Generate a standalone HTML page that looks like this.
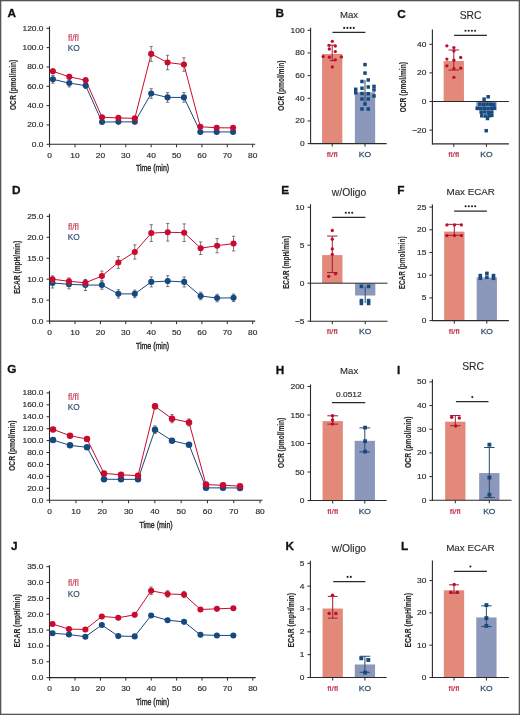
<!DOCTYPE html>
<html><head><meta charset="utf-8"><style>
html,body{margin:0;padding:0;background:#fff;}
body{width:520px;height:715px;overflow:hidden;}
svg{display:block;font-family:"Liberation Sans", sans-serif;will-change:transform;}
</style></head><body>
<svg width="520" height="715" viewBox="0 0 520 715">
<rect x="0" y="0" width="520" height="715" fill="#fff"/>
<line x1="49.5" y1="26.3" x2="49.5" y2="144.8" stroke="#2a2a2a" stroke-width="1.1"/>
<line x1="46.5" y1="144.3" x2="49.5" y2="144.3" stroke="#2a2a2a" stroke-width="1"/>
<text transform="translate(43.5,146.8) scale(1.15,1)" font-size="7.3" text-anchor="end" fill="#2a2a2a" stroke="#2a2a2a" stroke-width="0.15">0.0</text>
<line x1="46.5" y1="124.97" x2="49.5" y2="124.97" stroke="#2a2a2a" stroke-width="1"/>
<text transform="translate(43.5,127.47) scale(1.15,1)" font-size="7.3" text-anchor="end" fill="#2a2a2a" stroke="#2a2a2a" stroke-width="0.15">20.0</text>
<line x1="46.5" y1="105.63" x2="49.5" y2="105.63" stroke="#2a2a2a" stroke-width="1"/>
<text transform="translate(43.5,108.13) scale(1.15,1)" font-size="7.3" text-anchor="end" fill="#2a2a2a" stroke="#2a2a2a" stroke-width="0.15">40.0</text>
<line x1="46.5" y1="86.3" x2="49.5" y2="86.3" stroke="#2a2a2a" stroke-width="1"/>
<text transform="translate(43.5,88.8) scale(1.15,1)" font-size="7.3" text-anchor="end" fill="#2a2a2a" stroke="#2a2a2a" stroke-width="0.15">60.0</text>
<line x1="46.5" y1="66.96" x2="49.5" y2="66.96" stroke="#2a2a2a" stroke-width="1"/>
<text transform="translate(43.5,69.46) scale(1.15,1)" font-size="7.3" text-anchor="end" fill="#2a2a2a" stroke="#2a2a2a" stroke-width="0.15">80.0</text>
<line x1="46.5" y1="47.63" x2="49.5" y2="47.63" stroke="#2a2a2a" stroke-width="1"/>
<text transform="translate(43.5,50.13) scale(1.15,1)" font-size="7.3" text-anchor="end" fill="#2a2a2a" stroke="#2a2a2a" stroke-width="0.15">100.0</text>
<line x1="46.5" y1="28.3" x2="49.5" y2="28.3" stroke="#2a2a2a" stroke-width="1"/>
<text transform="translate(43.5,30.8) scale(1.15,1)" font-size="7.3" text-anchor="end" fill="#2a2a2a" stroke="#2a2a2a" stroke-width="0.15">120.0</text>
<line x1="49" y1="144.3" x2="255.2" y2="144.3" stroke="#2a2a2a" stroke-width="1.1"/>
<line x1="49.65" y1="144.3" x2="49.65" y2="147.3" stroke="#2a2a2a" stroke-width="1"/>
<text transform="translate(49.65,157.9) scale(1.15,1)" font-size="7.3" text-anchor="middle" fill="#2a2a2a" stroke="#2a2a2a" stroke-width="0.15">0</text>
<line x1="75.03" y1="144.3" x2="75.03" y2="147.3" stroke="#2a2a2a" stroke-width="1"/>
<text transform="translate(75.03,157.9) scale(1.15,1)" font-size="7.3" text-anchor="middle" fill="#2a2a2a" stroke="#2a2a2a" stroke-width="0.15">10</text>
<line x1="100.41" y1="144.3" x2="100.41" y2="147.3" stroke="#2a2a2a" stroke-width="1"/>
<text transform="translate(100.41,157.9) scale(1.15,1)" font-size="7.3" text-anchor="middle" fill="#2a2a2a" stroke="#2a2a2a" stroke-width="0.15">20</text>
<line x1="125.79" y1="144.3" x2="125.79" y2="147.3" stroke="#2a2a2a" stroke-width="1"/>
<text transform="translate(125.79,157.9) scale(1.15,1)" font-size="7.3" text-anchor="middle" fill="#2a2a2a" stroke="#2a2a2a" stroke-width="0.15">30</text>
<line x1="151.17" y1="144.3" x2="151.17" y2="147.3" stroke="#2a2a2a" stroke-width="1"/>
<text transform="translate(151.17,157.9) scale(1.15,1)" font-size="7.3" text-anchor="middle" fill="#2a2a2a" stroke="#2a2a2a" stroke-width="0.15">40</text>
<line x1="176.55" y1="144.3" x2="176.55" y2="147.3" stroke="#2a2a2a" stroke-width="1"/>
<text transform="translate(176.55,157.9) scale(1.15,1)" font-size="7.3" text-anchor="middle" fill="#2a2a2a" stroke="#2a2a2a" stroke-width="0.15">50</text>
<line x1="201.93" y1="144.3" x2="201.93" y2="147.3" stroke="#2a2a2a" stroke-width="1"/>
<text transform="translate(201.93,157.9) scale(1.15,1)" font-size="7.3" text-anchor="middle" fill="#2a2a2a" stroke="#2a2a2a" stroke-width="0.15">60</text>
<line x1="227.31" y1="144.3" x2="227.31" y2="147.3" stroke="#2a2a2a" stroke-width="1"/>
<text transform="translate(227.31,157.9) scale(1.15,1)" font-size="7.3" text-anchor="middle" fill="#2a2a2a" stroke="#2a2a2a" stroke-width="0.15">70</text>
<line x1="252.69" y1="144.3" x2="252.69" y2="147.3" stroke="#2a2a2a" stroke-width="1"/>
<text transform="translate(252.69,157.9) scale(1.15,1)" font-size="7.3" text-anchor="middle" fill="#2a2a2a" stroke="#2a2a2a" stroke-width="0.15">80</text>
<text transform="translate(152.5,171.2) scale(0.78,1)" font-size="9.0" text-anchor="middle" fill="#2a2a2a" font-weight="normal" stroke="#2a2a2a" stroke-width="0.4">Time (min)</text>
<text transform="translate(13,84.9) rotate(-90) scale(0.752,1)" font-size="8.8" text-anchor="middle" dy="0.35em" fill="#2a2a2a" font-weight="bold" stroke="#2a2a2a" stroke-width="0.1">OCR (pmol/min)</text>
<text transform="translate(68,41) scale(1.02,1)" font-size="8.3" text-anchor="start" fill="#c4304a" stroke="#c4304a" stroke-width="0.1">fl/fl</text>
<text transform="translate(67.7,50.8) scale(1.0,1)" font-size="8.3" text-anchor="start" fill="#34506e" stroke="#34506e" stroke-width="0.2">KO</text>
<polyline points="52.9,79.34 69.28,83.11 85.66,85.62 102.04,122.07 118.42,121.87 134.8,121.87 151.18,93.55 167.56,97.42 183.94,97.42 200.32,131.93 216.7,131.93 233.08,131.93" fill="none" stroke="#164a7e" stroke-width="1.0"/>
<polyline points="52.9,71.31 69.28,76.82 85.66,80.21 102.04,117.23 118.42,117.91 134.8,118.39 151.18,53.91 167.56,62.52 183.94,64.55 200.32,126.71 216.7,127.77 233.08,127.87" fill="none" stroke="#c90b2f" stroke-width="1.0"/>
<line x1="52.9" y1="75.47" x2="52.9" y2="83.2" stroke="#6a6a6a" stroke-width="0.9"/>
<line x1="51.3" y1="75.47" x2="54.5" y2="75.47" stroke="#6a6a6a" stroke-width="0.9"/>
<line x1="51.3" y1="83.2" x2="54.5" y2="83.2" stroke="#6a6a6a" stroke-width="0.9"/>
<circle cx="52.9" cy="79.34" r="3.05" fill="#164a7e"/>
<line x1="69.28" y1="79.24" x2="69.28" y2="86.97" stroke="#6a6a6a" stroke-width="0.9"/>
<line x1="67.68" y1="79.24" x2="70.88" y2="79.24" stroke="#6a6a6a" stroke-width="0.9"/>
<line x1="67.68" y1="86.97" x2="70.88" y2="86.97" stroke="#6a6a6a" stroke-width="0.9"/>
<circle cx="69.28" cy="83.11" r="3.05" fill="#164a7e"/>
<line x1="85.66" y1="82.72" x2="85.66" y2="88.52" stroke="#6a6a6a" stroke-width="0.9"/>
<line x1="84.06" y1="82.72" x2="87.26" y2="82.72" stroke="#6a6a6a" stroke-width="0.9"/>
<line x1="84.06" y1="88.52" x2="87.26" y2="88.52" stroke="#6a6a6a" stroke-width="0.9"/>
<circle cx="85.66" cy="85.62" r="3.05" fill="#164a7e"/>
<line x1="102.04" y1="120.62" x2="102.04" y2="123.52" stroke="#6a6a6a" stroke-width="0.9"/>
<line x1="100.44" y1="120.62" x2="103.64" y2="120.62" stroke="#6a6a6a" stroke-width="0.9"/>
<line x1="100.44" y1="123.52" x2="103.64" y2="123.52" stroke="#6a6a6a" stroke-width="0.9"/>
<circle cx="102.04" cy="122.07" r="3.05" fill="#164a7e"/>
<line x1="118.42" y1="120.42" x2="118.42" y2="123.32" stroke="#6a6a6a" stroke-width="0.9"/>
<line x1="116.82" y1="120.42" x2="120.02" y2="120.42" stroke="#6a6a6a" stroke-width="0.9"/>
<line x1="116.82" y1="123.32" x2="120.02" y2="123.32" stroke="#6a6a6a" stroke-width="0.9"/>
<circle cx="118.42" cy="121.87" r="3.05" fill="#164a7e"/>
<line x1="134.8" y1="120.42" x2="134.8" y2="123.32" stroke="#6a6a6a" stroke-width="0.9"/>
<line x1="133.2" y1="120.42" x2="136.4" y2="120.42" stroke="#6a6a6a" stroke-width="0.9"/>
<line x1="133.2" y1="123.32" x2="136.4" y2="123.32" stroke="#6a6a6a" stroke-width="0.9"/>
<circle cx="134.8" cy="121.87" r="3.05" fill="#164a7e"/>
<line x1="151.18" y1="88.71" x2="151.18" y2="98.38" stroke="#6a6a6a" stroke-width="0.9"/>
<line x1="149.58" y1="88.71" x2="152.78" y2="88.71" stroke="#6a6a6a" stroke-width="0.9"/>
<line x1="149.58" y1="98.38" x2="152.78" y2="98.38" stroke="#6a6a6a" stroke-width="0.9"/>
<circle cx="151.18" cy="93.55" r="3.05" fill="#164a7e"/>
<line x1="167.56" y1="92.58" x2="167.56" y2="102.25" stroke="#6a6a6a" stroke-width="0.9"/>
<line x1="165.96" y1="92.58" x2="169.16" y2="92.58" stroke="#6a6a6a" stroke-width="0.9"/>
<line x1="165.96" y1="102.25" x2="169.16" y2="102.25" stroke="#6a6a6a" stroke-width="0.9"/>
<circle cx="167.56" cy="97.42" r="3.05" fill="#164a7e"/>
<line x1="183.94" y1="92.58" x2="183.94" y2="102.25" stroke="#6a6a6a" stroke-width="0.9"/>
<line x1="182.34" y1="92.58" x2="185.54" y2="92.58" stroke="#6a6a6a" stroke-width="0.9"/>
<line x1="182.34" y1="102.25" x2="185.54" y2="102.25" stroke="#6a6a6a" stroke-width="0.9"/>
<circle cx="183.94" cy="97.42" r="3.05" fill="#164a7e"/>
<line x1="200.32" y1="130.96" x2="200.32" y2="132.89" stroke="#6a6a6a" stroke-width="0.9"/>
<line x1="198.72" y1="130.96" x2="201.92" y2="130.96" stroke="#6a6a6a" stroke-width="0.9"/>
<line x1="198.72" y1="132.89" x2="201.92" y2="132.89" stroke="#6a6a6a" stroke-width="0.9"/>
<circle cx="200.32" cy="131.93" r="3.05" fill="#164a7e"/>
<line x1="216.7" y1="130.96" x2="216.7" y2="132.89" stroke="#6a6a6a" stroke-width="0.9"/>
<line x1="215.1" y1="130.96" x2="218.3" y2="130.96" stroke="#6a6a6a" stroke-width="0.9"/>
<line x1="215.1" y1="132.89" x2="218.3" y2="132.89" stroke="#6a6a6a" stroke-width="0.9"/>
<circle cx="216.7" cy="131.93" r="3.05" fill="#164a7e"/>
<line x1="233.08" y1="130.96" x2="233.08" y2="132.89" stroke="#6a6a6a" stroke-width="0.9"/>
<line x1="231.48" y1="130.96" x2="234.68" y2="130.96" stroke="#6a6a6a" stroke-width="0.9"/>
<line x1="231.48" y1="132.89" x2="234.68" y2="132.89" stroke="#6a6a6a" stroke-width="0.9"/>
<circle cx="233.08" cy="131.93" r="3.05" fill="#164a7e"/>
<line x1="52.9" y1="68.9" x2="52.9" y2="73.73" stroke="#6a6a6a" stroke-width="0.9"/>
<line x1="51.3" y1="68.9" x2="54.5" y2="68.9" stroke="#6a6a6a" stroke-width="0.9"/>
<line x1="51.3" y1="73.73" x2="54.5" y2="73.73" stroke="#6a6a6a" stroke-width="0.9"/>
<circle cx="52.9" cy="71.31" r="3.05" fill="#c90b2f"/>
<line x1="69.28" y1="74.41" x2="69.28" y2="79.24" stroke="#6a6a6a" stroke-width="0.9"/>
<line x1="67.68" y1="74.41" x2="70.88" y2="74.41" stroke="#6a6a6a" stroke-width="0.9"/>
<line x1="67.68" y1="79.24" x2="70.88" y2="79.24" stroke="#6a6a6a" stroke-width="0.9"/>
<circle cx="69.28" cy="76.82" r="3.05" fill="#c90b2f"/>
<line x1="85.66" y1="77.79" x2="85.66" y2="82.62" stroke="#6a6a6a" stroke-width="0.9"/>
<line x1="84.06" y1="77.79" x2="87.26" y2="77.79" stroke="#6a6a6a" stroke-width="0.9"/>
<line x1="84.06" y1="82.62" x2="87.26" y2="82.62" stroke="#6a6a6a" stroke-width="0.9"/>
<circle cx="85.66" cy="80.21" r="3.05" fill="#c90b2f"/>
<line x1="102.04" y1="115.78" x2="102.04" y2="118.68" stroke="#6a6a6a" stroke-width="0.9"/>
<line x1="100.44" y1="115.78" x2="103.64" y2="115.78" stroke="#6a6a6a" stroke-width="0.9"/>
<line x1="100.44" y1="118.68" x2="103.64" y2="118.68" stroke="#6a6a6a" stroke-width="0.9"/>
<circle cx="102.04" cy="117.23" r="3.05" fill="#c90b2f"/>
<line x1="118.42" y1="116.46" x2="118.42" y2="119.36" stroke="#6a6a6a" stroke-width="0.9"/>
<line x1="116.82" y1="116.46" x2="120.02" y2="116.46" stroke="#6a6a6a" stroke-width="0.9"/>
<line x1="116.82" y1="119.36" x2="120.02" y2="119.36" stroke="#6a6a6a" stroke-width="0.9"/>
<circle cx="118.42" cy="117.91" r="3.05" fill="#c90b2f"/>
<line x1="134.8" y1="116.94" x2="134.8" y2="119.84" stroke="#6a6a6a" stroke-width="0.9"/>
<line x1="133.2" y1="116.94" x2="136.4" y2="116.94" stroke="#6a6a6a" stroke-width="0.9"/>
<line x1="133.2" y1="119.84" x2="136.4" y2="119.84" stroke="#6a6a6a" stroke-width="0.9"/>
<circle cx="134.8" cy="118.39" r="3.05" fill="#c90b2f"/>
<line x1="151.18" y1="46.47" x2="151.18" y2="61.36" stroke="#6a6a6a" stroke-width="0.9"/>
<line x1="149.58" y1="46.47" x2="152.78" y2="46.47" stroke="#6a6a6a" stroke-width="0.9"/>
<line x1="149.58" y1="61.36" x2="152.78" y2="61.36" stroke="#6a6a6a" stroke-width="0.9"/>
<circle cx="151.18" cy="53.91" r="3.05" fill="#c90b2f"/>
<line x1="167.56" y1="55.27" x2="167.56" y2="69.77" stroke="#6a6a6a" stroke-width="0.9"/>
<line x1="165.96" y1="55.27" x2="169.16" y2="55.27" stroke="#6a6a6a" stroke-width="0.9"/>
<line x1="165.96" y1="69.77" x2="169.16" y2="69.77" stroke="#6a6a6a" stroke-width="0.9"/>
<circle cx="167.56" cy="62.52" r="3.05" fill="#c90b2f"/>
<line x1="183.94" y1="57.78" x2="183.94" y2="71.31" stroke="#6a6a6a" stroke-width="0.9"/>
<line x1="182.34" y1="57.78" x2="185.54" y2="57.78" stroke="#6a6a6a" stroke-width="0.9"/>
<line x1="182.34" y1="71.31" x2="185.54" y2="71.31" stroke="#6a6a6a" stroke-width="0.9"/>
<circle cx="183.94" cy="64.55" r="3.05" fill="#c90b2f"/>
<line x1="200.32" y1="125.26" x2="200.32" y2="128.16" stroke="#6a6a6a" stroke-width="0.9"/>
<line x1="198.72" y1="125.26" x2="201.92" y2="125.26" stroke="#6a6a6a" stroke-width="0.9"/>
<line x1="198.72" y1="128.16" x2="201.92" y2="128.16" stroke="#6a6a6a" stroke-width="0.9"/>
<circle cx="200.32" cy="126.71" r="3.05" fill="#c90b2f"/>
<line x1="216.7" y1="126.32" x2="216.7" y2="129.22" stroke="#6a6a6a" stroke-width="0.9"/>
<line x1="215.1" y1="126.32" x2="218.3" y2="126.32" stroke="#6a6a6a" stroke-width="0.9"/>
<line x1="215.1" y1="129.22" x2="218.3" y2="129.22" stroke="#6a6a6a" stroke-width="0.9"/>
<circle cx="216.7" cy="127.77" r="3.05" fill="#c90b2f"/>
<line x1="233.08" y1="126.42" x2="233.08" y2="129.32" stroke="#6a6a6a" stroke-width="0.9"/>
<line x1="231.48" y1="126.42" x2="234.68" y2="126.42" stroke="#6a6a6a" stroke-width="0.9"/>
<line x1="231.48" y1="129.32" x2="234.68" y2="129.32" stroke="#6a6a6a" stroke-width="0.9"/>
<circle cx="233.08" cy="127.87" r="3.05" fill="#c90b2f"/>
<text x="7.45" y="16.75" font-size="11.8" text-anchor="start" fill="#111" font-weight="bold" stroke="#111" stroke-width="0.3">A</text>
<line x1="49.5" y1="213.8" x2="49.5" y2="321.6" stroke="#2a2a2a" stroke-width="1.1"/>
<line x1="46.5" y1="321.1" x2="49.5" y2="321.1" stroke="#2a2a2a" stroke-width="1"/>
<text transform="translate(43.5,323.6) scale(1.15,1)" font-size="7.3" text-anchor="end" fill="#2a2a2a" stroke="#2a2a2a" stroke-width="0.15">0.0</text>
<line x1="46.5" y1="300.15" x2="49.5" y2="300.15" stroke="#2a2a2a" stroke-width="1"/>
<text transform="translate(43.5,302.65) scale(1.15,1)" font-size="7.3" text-anchor="end" fill="#2a2a2a" stroke="#2a2a2a" stroke-width="0.15">5.0</text>
<line x1="46.5" y1="279.2" x2="49.5" y2="279.2" stroke="#2a2a2a" stroke-width="1"/>
<text transform="translate(43.5,281.7) scale(1.15,1)" font-size="7.3" text-anchor="end" fill="#2a2a2a" stroke="#2a2a2a" stroke-width="0.15">10.0</text>
<line x1="46.5" y1="258.25" x2="49.5" y2="258.25" stroke="#2a2a2a" stroke-width="1"/>
<text transform="translate(43.5,260.75) scale(1.15,1)" font-size="7.3" text-anchor="end" fill="#2a2a2a" stroke="#2a2a2a" stroke-width="0.15">15.0</text>
<line x1="46.5" y1="237.3" x2="49.5" y2="237.3" stroke="#2a2a2a" stroke-width="1"/>
<text transform="translate(43.5,239.8) scale(1.15,1)" font-size="7.3" text-anchor="end" fill="#2a2a2a" stroke="#2a2a2a" stroke-width="0.15">20.0</text>
<line x1="46.5" y1="216.35" x2="49.5" y2="216.35" stroke="#2a2a2a" stroke-width="1"/>
<text transform="translate(43.5,218.85) scale(1.15,1)" font-size="7.3" text-anchor="end" fill="#2a2a2a" stroke="#2a2a2a" stroke-width="0.15">25.0</text>
<line x1="49" y1="321.1" x2="255.2" y2="321.1" stroke="#2a2a2a" stroke-width="1.1"/>
<line x1="49.65" y1="321.1" x2="49.65" y2="324.1" stroke="#2a2a2a" stroke-width="1"/>
<text transform="translate(49.65,334.7) scale(1.15,1)" font-size="7.3" text-anchor="middle" fill="#2a2a2a" stroke="#2a2a2a" stroke-width="0.15">0</text>
<line x1="75.03" y1="321.1" x2="75.03" y2="324.1" stroke="#2a2a2a" stroke-width="1"/>
<text transform="translate(75.03,334.7) scale(1.15,1)" font-size="7.3" text-anchor="middle" fill="#2a2a2a" stroke="#2a2a2a" stroke-width="0.15">10</text>
<line x1="100.41" y1="321.1" x2="100.41" y2="324.1" stroke="#2a2a2a" stroke-width="1"/>
<text transform="translate(100.41,334.7) scale(1.15,1)" font-size="7.3" text-anchor="middle" fill="#2a2a2a" stroke="#2a2a2a" stroke-width="0.15">20</text>
<line x1="125.79" y1="321.1" x2="125.79" y2="324.1" stroke="#2a2a2a" stroke-width="1"/>
<text transform="translate(125.79,334.7) scale(1.15,1)" font-size="7.3" text-anchor="middle" fill="#2a2a2a" stroke="#2a2a2a" stroke-width="0.15">30</text>
<line x1="151.17" y1="321.1" x2="151.17" y2="324.1" stroke="#2a2a2a" stroke-width="1"/>
<text transform="translate(151.17,334.7) scale(1.15,1)" font-size="7.3" text-anchor="middle" fill="#2a2a2a" stroke="#2a2a2a" stroke-width="0.15">40</text>
<line x1="176.55" y1="321.1" x2="176.55" y2="324.1" stroke="#2a2a2a" stroke-width="1"/>
<text transform="translate(176.55,334.7) scale(1.15,1)" font-size="7.3" text-anchor="middle" fill="#2a2a2a" stroke="#2a2a2a" stroke-width="0.15">50</text>
<line x1="201.93" y1="321.1" x2="201.93" y2="324.1" stroke="#2a2a2a" stroke-width="1"/>
<text transform="translate(201.93,334.7) scale(1.15,1)" font-size="7.3" text-anchor="middle" fill="#2a2a2a" stroke="#2a2a2a" stroke-width="0.15">60</text>
<line x1="227.31" y1="321.1" x2="227.31" y2="324.1" stroke="#2a2a2a" stroke-width="1"/>
<text transform="translate(227.31,334.7) scale(1.15,1)" font-size="7.3" text-anchor="middle" fill="#2a2a2a" stroke="#2a2a2a" stroke-width="0.15">70</text>
<line x1="252.69" y1="321.1" x2="252.69" y2="324.1" stroke="#2a2a2a" stroke-width="1"/>
<text transform="translate(252.69,334.7) scale(1.15,1)" font-size="7.3" text-anchor="middle" fill="#2a2a2a" stroke="#2a2a2a" stroke-width="0.15">80</text>
<text transform="translate(152.5,348.9) scale(0.78,1)" font-size="9.0" text-anchor="middle" fill="#2a2a2a" font-weight="normal" stroke="#2a2a2a" stroke-width="0.4">Time (min)</text>
<text transform="translate(17.1,267.5) rotate(-90) scale(0.752,1)" font-size="8.8" text-anchor="middle" dy="0.35em" fill="#2a2a2a" font-weight="bold" stroke="#2a2a2a" stroke-width="0.1">ECAR (mpH/min)</text>
<text transform="translate(68,229.8) scale(1.02,1)" font-size="8.3" text-anchor="start" fill="#c4304a" stroke="#c4304a" stroke-width="0.1">fl/fl</text>
<text transform="translate(67.7,240.3) scale(1.0,1)" font-size="8.3" text-anchor="start" fill="#34506e" stroke="#34506e" stroke-width="0.2">KO</text>
<polyline points="52.5,282.97 68.96,284.23 85.42,285.07 101.88,285.07 118.34,293.87 134.8,293.87 151.26,281.92 167.72,281.09 184.18,281.92 200.64,295.96 217.1,298.06 233.56,297.85" fill="none" stroke="#164a7e" stroke-width="1.0"/>
<polyline points="52.5,279.2 68.96,281.3 85.42,282.76 101.88,276.06 118.34,262.44 134.8,251.97 151.26,233.11 167.72,232.27 184.18,232.69 200.64,248.19 217.1,245.68 233.56,243.59" fill="none" stroke="#c90b2f" stroke-width="1.0"/>
<line x1="52.5" y1="277.94" x2="52.5" y2="288" stroke="#6a6a6a" stroke-width="0.9"/>
<line x1="50.9" y1="277.94" x2="54.1" y2="277.94" stroke="#6a6a6a" stroke-width="0.9"/>
<line x1="50.9" y1="288" x2="54.1" y2="288" stroke="#6a6a6a" stroke-width="0.9"/>
<circle cx="52.5" cy="282.97" r="3.05" fill="#164a7e"/>
<line x1="68.96" y1="279.62" x2="68.96" y2="288.84" stroke="#6a6a6a" stroke-width="0.9"/>
<line x1="67.36" y1="279.62" x2="70.56" y2="279.62" stroke="#6a6a6a" stroke-width="0.9"/>
<line x1="67.36" y1="288.84" x2="70.56" y2="288.84" stroke="#6a6a6a" stroke-width="0.9"/>
<circle cx="68.96" cy="284.23" r="3.05" fill="#164a7e"/>
<line x1="85.42" y1="279.62" x2="85.42" y2="290.51" stroke="#6a6a6a" stroke-width="0.9"/>
<line x1="83.82" y1="279.62" x2="87.02" y2="279.62" stroke="#6a6a6a" stroke-width="0.9"/>
<line x1="83.82" y1="290.51" x2="87.02" y2="290.51" stroke="#6a6a6a" stroke-width="0.9"/>
<circle cx="85.42" cy="285.07" r="3.05" fill="#164a7e"/>
<line x1="101.88" y1="280.88" x2="101.88" y2="289.26" stroke="#6a6a6a" stroke-width="0.9"/>
<line x1="100.28" y1="280.88" x2="103.48" y2="280.88" stroke="#6a6a6a" stroke-width="0.9"/>
<line x1="100.28" y1="289.26" x2="103.48" y2="289.26" stroke="#6a6a6a" stroke-width="0.9"/>
<circle cx="101.88" cy="285.07" r="3.05" fill="#164a7e"/>
<line x1="118.34" y1="289.68" x2="118.34" y2="298.06" stroke="#6a6a6a" stroke-width="0.9"/>
<line x1="116.74" y1="289.68" x2="119.94" y2="289.68" stroke="#6a6a6a" stroke-width="0.9"/>
<line x1="116.74" y1="298.06" x2="119.94" y2="298.06" stroke="#6a6a6a" stroke-width="0.9"/>
<circle cx="118.34" cy="293.87" r="3.05" fill="#164a7e"/>
<line x1="134.8" y1="290.09" x2="134.8" y2="297.64" stroke="#6a6a6a" stroke-width="0.9"/>
<line x1="133.2" y1="290.09" x2="136.4" y2="290.09" stroke="#6a6a6a" stroke-width="0.9"/>
<line x1="133.2" y1="297.64" x2="136.4" y2="297.64" stroke="#6a6a6a" stroke-width="0.9"/>
<circle cx="134.8" cy="293.87" r="3.05" fill="#164a7e"/>
<line x1="151.26" y1="276.9" x2="151.26" y2="286.95" stroke="#6a6a6a" stroke-width="0.9"/>
<line x1="149.66" y1="276.9" x2="152.86" y2="276.9" stroke="#6a6a6a" stroke-width="0.9"/>
<line x1="149.66" y1="286.95" x2="152.86" y2="286.95" stroke="#6a6a6a" stroke-width="0.9"/>
<circle cx="151.26" cy="281.92" r="3.05" fill="#164a7e"/>
<line x1="167.72" y1="275.64" x2="167.72" y2="286.53" stroke="#6a6a6a" stroke-width="0.9"/>
<line x1="166.12" y1="275.64" x2="169.32" y2="275.64" stroke="#6a6a6a" stroke-width="0.9"/>
<line x1="166.12" y1="286.53" x2="169.32" y2="286.53" stroke="#6a6a6a" stroke-width="0.9"/>
<circle cx="167.72" cy="281.09" r="3.05" fill="#164a7e"/>
<line x1="184.18" y1="276.9" x2="184.18" y2="286.95" stroke="#6a6a6a" stroke-width="0.9"/>
<line x1="182.58" y1="276.9" x2="185.78" y2="276.9" stroke="#6a6a6a" stroke-width="0.9"/>
<line x1="182.58" y1="286.95" x2="185.78" y2="286.95" stroke="#6a6a6a" stroke-width="0.9"/>
<circle cx="184.18" cy="281.92" r="3.05" fill="#164a7e"/>
<line x1="200.64" y1="292.19" x2="200.64" y2="299.73" stroke="#6a6a6a" stroke-width="0.9"/>
<line x1="199.04" y1="292.19" x2="202.24" y2="292.19" stroke="#6a6a6a" stroke-width="0.9"/>
<line x1="199.04" y1="299.73" x2="202.24" y2="299.73" stroke="#6a6a6a" stroke-width="0.9"/>
<circle cx="200.64" cy="295.96" r="3.05" fill="#164a7e"/>
<line x1="217.1" y1="294.28" x2="217.1" y2="301.83" stroke="#6a6a6a" stroke-width="0.9"/>
<line x1="215.5" y1="294.28" x2="218.7" y2="294.28" stroke="#6a6a6a" stroke-width="0.9"/>
<line x1="215.5" y1="301.83" x2="218.7" y2="301.83" stroke="#6a6a6a" stroke-width="0.9"/>
<circle cx="217.1" cy="298.06" r="3.05" fill="#164a7e"/>
<line x1="233.56" y1="294.07" x2="233.56" y2="301.62" stroke="#6a6a6a" stroke-width="0.9"/>
<line x1="231.96" y1="294.07" x2="235.16" y2="294.07" stroke="#6a6a6a" stroke-width="0.9"/>
<line x1="231.96" y1="301.62" x2="235.16" y2="301.62" stroke="#6a6a6a" stroke-width="0.9"/>
<circle cx="233.56" cy="297.85" r="3.05" fill="#164a7e"/>
<line x1="52.5" y1="275.85" x2="52.5" y2="282.55" stroke="#6a6a6a" stroke-width="0.9"/>
<line x1="50.9" y1="275.85" x2="54.1" y2="275.85" stroke="#6a6a6a" stroke-width="0.9"/>
<line x1="50.9" y1="282.55" x2="54.1" y2="282.55" stroke="#6a6a6a" stroke-width="0.9"/>
<circle cx="52.5" cy="279.2" r="3.05" fill="#c90b2f"/>
<line x1="68.96" y1="277.94" x2="68.96" y2="284.65" stroke="#6a6a6a" stroke-width="0.9"/>
<line x1="67.36" y1="277.94" x2="70.56" y2="277.94" stroke="#6a6a6a" stroke-width="0.9"/>
<line x1="67.36" y1="284.65" x2="70.56" y2="284.65" stroke="#6a6a6a" stroke-width="0.9"/>
<circle cx="68.96" cy="281.3" r="3.05" fill="#c90b2f"/>
<line x1="85.42" y1="279.41" x2="85.42" y2="286.11" stroke="#6a6a6a" stroke-width="0.9"/>
<line x1="83.82" y1="279.41" x2="87.02" y2="279.41" stroke="#6a6a6a" stroke-width="0.9"/>
<line x1="83.82" y1="286.11" x2="87.02" y2="286.11" stroke="#6a6a6a" stroke-width="0.9"/>
<circle cx="85.42" cy="282.76" r="3.05" fill="#c90b2f"/>
<line x1="101.88" y1="271.03" x2="101.88" y2="281.09" stroke="#6a6a6a" stroke-width="0.9"/>
<line x1="100.28" y1="271.03" x2="103.48" y2="271.03" stroke="#6a6a6a" stroke-width="0.9"/>
<line x1="100.28" y1="281.09" x2="103.48" y2="281.09" stroke="#6a6a6a" stroke-width="0.9"/>
<circle cx="101.88" cy="276.06" r="3.05" fill="#c90b2f"/>
<line x1="118.34" y1="256.57" x2="118.34" y2="268.31" stroke="#6a6a6a" stroke-width="0.9"/>
<line x1="116.74" y1="256.57" x2="119.94" y2="256.57" stroke="#6a6a6a" stroke-width="0.9"/>
<line x1="116.74" y1="268.31" x2="119.94" y2="268.31" stroke="#6a6a6a" stroke-width="0.9"/>
<circle cx="118.34" cy="262.44" r="3.05" fill="#c90b2f"/>
<line x1="134.8" y1="244.84" x2="134.8" y2="259.09" stroke="#6a6a6a" stroke-width="0.9"/>
<line x1="133.2" y1="244.84" x2="136.4" y2="244.84" stroke="#6a6a6a" stroke-width="0.9"/>
<line x1="133.2" y1="259.09" x2="136.4" y2="259.09" stroke="#6a6a6a" stroke-width="0.9"/>
<circle cx="134.8" cy="251.97" r="3.05" fill="#c90b2f"/>
<line x1="151.26" y1="224.73" x2="151.26" y2="241.49" stroke="#6a6a6a" stroke-width="0.9"/>
<line x1="149.66" y1="224.73" x2="152.86" y2="224.73" stroke="#6a6a6a" stroke-width="0.9"/>
<line x1="149.66" y1="241.49" x2="152.86" y2="241.49" stroke="#6a6a6a" stroke-width="0.9"/>
<circle cx="151.26" cy="233.11" r="3.05" fill="#c90b2f"/>
<line x1="167.72" y1="223.47" x2="167.72" y2="241.07" stroke="#6a6a6a" stroke-width="0.9"/>
<line x1="166.12" y1="223.47" x2="169.32" y2="223.47" stroke="#6a6a6a" stroke-width="0.9"/>
<line x1="166.12" y1="241.07" x2="169.32" y2="241.07" stroke="#6a6a6a" stroke-width="0.9"/>
<circle cx="167.72" cy="232.27" r="3.05" fill="#c90b2f"/>
<line x1="184.18" y1="223.89" x2="184.18" y2="241.49" stroke="#6a6a6a" stroke-width="0.9"/>
<line x1="182.58" y1="223.89" x2="185.78" y2="223.89" stroke="#6a6a6a" stroke-width="0.9"/>
<line x1="182.58" y1="241.49" x2="185.78" y2="241.49" stroke="#6a6a6a" stroke-width="0.9"/>
<circle cx="184.18" cy="232.69" r="3.05" fill="#c90b2f"/>
<line x1="200.64" y1="241.91" x2="200.64" y2="254.48" stroke="#6a6a6a" stroke-width="0.9"/>
<line x1="199.04" y1="241.91" x2="202.24" y2="241.91" stroke="#6a6a6a" stroke-width="0.9"/>
<line x1="199.04" y1="254.48" x2="202.24" y2="254.48" stroke="#6a6a6a" stroke-width="0.9"/>
<circle cx="200.64" cy="248.19" r="3.05" fill="#c90b2f"/>
<line x1="217.1" y1="238.56" x2="217.1" y2="252.8" stroke="#6a6a6a" stroke-width="0.9"/>
<line x1="215.5" y1="238.56" x2="218.7" y2="238.56" stroke="#6a6a6a" stroke-width="0.9"/>
<line x1="215.5" y1="252.8" x2="218.7" y2="252.8" stroke="#6a6a6a" stroke-width="0.9"/>
<circle cx="217.1" cy="245.68" r="3.05" fill="#c90b2f"/>
<line x1="233.56" y1="236.25" x2="233.56" y2="250.92" stroke="#6a6a6a" stroke-width="0.9"/>
<line x1="231.96" y1="236.25" x2="235.16" y2="236.25" stroke="#6a6a6a" stroke-width="0.9"/>
<line x1="231.96" y1="250.92" x2="235.16" y2="250.92" stroke="#6a6a6a" stroke-width="0.9"/>
<circle cx="233.56" cy="243.59" r="3.05" fill="#c90b2f"/>
<text x="12" y="194" font-size="11.8" text-anchor="start" fill="#111" font-weight="bold" stroke="#111" stroke-width="0.3">D</text>
<line x1="49.5" y1="390.8" x2="49.5" y2="500.7" stroke="#2a2a2a" stroke-width="1.1"/>
<line x1="46.5" y1="500.2" x2="49.5" y2="500.2" stroke="#2a2a2a" stroke-width="1"/>
<text transform="translate(43.5,502.7) scale(1.15,1)" font-size="7.3" text-anchor="end" fill="#2a2a2a" stroke="#2a2a2a" stroke-width="0.15">0.0</text>
<line x1="46.5" y1="488.28" x2="49.5" y2="488.28" stroke="#2a2a2a" stroke-width="1"/>
<text transform="translate(43.5,490.78) scale(1.15,1)" font-size="7.3" text-anchor="end" fill="#2a2a2a" stroke="#2a2a2a" stroke-width="0.15">20.0</text>
<line x1="46.5" y1="476.36" x2="49.5" y2="476.36" stroke="#2a2a2a" stroke-width="1"/>
<text transform="translate(43.5,478.86) scale(1.15,1)" font-size="7.3" text-anchor="end" fill="#2a2a2a" stroke="#2a2a2a" stroke-width="0.15">40.0</text>
<line x1="46.5" y1="464.44" x2="49.5" y2="464.44" stroke="#2a2a2a" stroke-width="1"/>
<text transform="translate(43.5,466.94) scale(1.15,1)" font-size="7.3" text-anchor="end" fill="#2a2a2a" stroke="#2a2a2a" stroke-width="0.15">60.0</text>
<line x1="46.5" y1="452.52" x2="49.5" y2="452.52" stroke="#2a2a2a" stroke-width="1"/>
<text transform="translate(43.5,455.02) scale(1.15,1)" font-size="7.3" text-anchor="end" fill="#2a2a2a" stroke="#2a2a2a" stroke-width="0.15">80.0</text>
<line x1="46.5" y1="440.6" x2="49.5" y2="440.6" stroke="#2a2a2a" stroke-width="1"/>
<text transform="translate(43.5,443.1) scale(1.15,1)" font-size="7.3" text-anchor="end" fill="#2a2a2a" stroke="#2a2a2a" stroke-width="0.15">100.0</text>
<line x1="46.5" y1="428.68" x2="49.5" y2="428.68" stroke="#2a2a2a" stroke-width="1"/>
<text transform="translate(43.5,431.18) scale(1.15,1)" font-size="7.3" text-anchor="end" fill="#2a2a2a" stroke="#2a2a2a" stroke-width="0.15">120.0</text>
<line x1="46.5" y1="416.76" x2="49.5" y2="416.76" stroke="#2a2a2a" stroke-width="1"/>
<text transform="translate(43.5,419.26) scale(1.15,1)" font-size="7.3" text-anchor="end" fill="#2a2a2a" stroke="#2a2a2a" stroke-width="0.15">140.0</text>
<line x1="46.5" y1="404.84" x2="49.5" y2="404.84" stroke="#2a2a2a" stroke-width="1"/>
<text transform="translate(43.5,407.34) scale(1.15,1)" font-size="7.3" text-anchor="end" fill="#2a2a2a" stroke="#2a2a2a" stroke-width="0.15">160.0</text>
<line x1="46.5" y1="392.92" x2="49.5" y2="392.92" stroke="#2a2a2a" stroke-width="1"/>
<text transform="translate(43.5,395.42) scale(1.15,1)" font-size="7.3" text-anchor="end" fill="#2a2a2a" stroke="#2a2a2a" stroke-width="0.15">180.0</text>
<line x1="49" y1="500.2" x2="262.5" y2="500.2" stroke="#2a2a2a" stroke-width="1.1"/>
<line x1="49.65" y1="500.2" x2="49.65" y2="503.2" stroke="#2a2a2a" stroke-width="1"/>
<text transform="translate(49.65,513.8) scale(1.15,1)" font-size="7.3" text-anchor="middle" fill="#2a2a2a" stroke="#2a2a2a" stroke-width="0.15">0</text>
<line x1="75.95" y1="500.2" x2="75.95" y2="503.2" stroke="#2a2a2a" stroke-width="1"/>
<text transform="translate(75.95,513.8) scale(1.15,1)" font-size="7.3" text-anchor="middle" fill="#2a2a2a" stroke="#2a2a2a" stroke-width="0.15">10</text>
<line x1="102.25" y1="500.2" x2="102.25" y2="503.2" stroke="#2a2a2a" stroke-width="1"/>
<text transform="translate(102.25,513.8) scale(1.15,1)" font-size="7.3" text-anchor="middle" fill="#2a2a2a" stroke="#2a2a2a" stroke-width="0.15">20</text>
<line x1="128.55" y1="500.2" x2="128.55" y2="503.2" stroke="#2a2a2a" stroke-width="1"/>
<text transform="translate(128.55,513.8) scale(1.15,1)" font-size="7.3" text-anchor="middle" fill="#2a2a2a" stroke="#2a2a2a" stroke-width="0.15">30</text>
<line x1="154.85" y1="500.2" x2="154.85" y2="503.2" stroke="#2a2a2a" stroke-width="1"/>
<text transform="translate(154.85,513.8) scale(1.15,1)" font-size="7.3" text-anchor="middle" fill="#2a2a2a" stroke="#2a2a2a" stroke-width="0.15">40</text>
<line x1="181.15" y1="500.2" x2="181.15" y2="503.2" stroke="#2a2a2a" stroke-width="1"/>
<text transform="translate(181.15,513.8) scale(1.15,1)" font-size="7.3" text-anchor="middle" fill="#2a2a2a" stroke="#2a2a2a" stroke-width="0.15">50</text>
<line x1="207.45" y1="500.2" x2="207.45" y2="503.2" stroke="#2a2a2a" stroke-width="1"/>
<text transform="translate(207.45,513.8) scale(1.15,1)" font-size="7.3" text-anchor="middle" fill="#2a2a2a" stroke="#2a2a2a" stroke-width="0.15">60</text>
<line x1="233.75" y1="500.2" x2="233.75" y2="503.2" stroke="#2a2a2a" stroke-width="1"/>
<text transform="translate(233.75,513.8) scale(1.15,1)" font-size="7.3" text-anchor="middle" fill="#2a2a2a" stroke="#2a2a2a" stroke-width="0.15">70</text>
<line x1="260.05" y1="500.2" x2="260.05" y2="503.2" stroke="#2a2a2a" stroke-width="1"/>
<text transform="translate(260.05,513.8) scale(1.15,1)" font-size="7.3" text-anchor="middle" fill="#2a2a2a" stroke="#2a2a2a" stroke-width="0.15">80</text>
<text transform="translate(156,527.5) scale(0.78,1)" font-size="9.0" text-anchor="middle" fill="#2a2a2a" font-weight="normal" stroke="#2a2a2a" stroke-width="0.4">Time (min)</text>
<text transform="translate(12.3,445.65) rotate(-90) scale(0.752,1)" font-size="8.8" text-anchor="middle" dy="0.35em" fill="#2a2a2a" font-weight="bold" stroke="#2a2a2a" stroke-width="0.1">OCR (pmol/min)</text>
<text transform="translate(68,400) scale(1.02,1)" font-size="8.3" text-anchor="start" fill="#c4304a" stroke="#c4304a" stroke-width="0.1">fl/fl</text>
<text transform="translate(67.7,410.3) scale(1.0,1)" font-size="8.3" text-anchor="start" fill="#34506e" stroke="#34506e" stroke-width="0.2">KO</text>
<polyline points="53,440 70,445.37 87,447.28 104,479.22 121,479.34 138,479.34 155,429.69 172,440.72 189,444.65 206,487.86 223,487.86 240,487.98" fill="none" stroke="#164a7e" stroke-width="1.0"/>
<polyline points="53,429.4 70,435.65 87,439.05 104,473.38 121,474.81 138,475.64 155,406.33 172,418.67 189,422.42 206,484.58 223,485.3 240,486.13" fill="none" stroke="#c90b2f" stroke-width="1.0"/>
<line x1="53" y1="438.81" x2="53" y2="441.2" stroke="#6a6a6a" stroke-width="0.9"/>
<line x1="51.4" y1="438.81" x2="54.6" y2="438.81" stroke="#6a6a6a" stroke-width="0.9"/>
<line x1="51.4" y1="441.2" x2="54.6" y2="441.2" stroke="#6a6a6a" stroke-width="0.9"/>
<circle cx="53" cy="440" r="3.25" fill="#164a7e"/>
<line x1="70" y1="444.18" x2="70" y2="446.56" stroke="#6a6a6a" stroke-width="0.9"/>
<line x1="68.4" y1="444.18" x2="71.6" y2="444.18" stroke="#6a6a6a" stroke-width="0.9"/>
<line x1="68.4" y1="446.56" x2="71.6" y2="446.56" stroke="#6a6a6a" stroke-width="0.9"/>
<circle cx="70" cy="445.37" r="3.25" fill="#164a7e"/>
<line x1="87" y1="446.08" x2="87" y2="448.47" stroke="#6a6a6a" stroke-width="0.9"/>
<line x1="85.4" y1="446.08" x2="88.6" y2="446.08" stroke="#6a6a6a" stroke-width="0.9"/>
<line x1="85.4" y1="448.47" x2="88.6" y2="448.47" stroke="#6a6a6a" stroke-width="0.9"/>
<circle cx="87" cy="447.28" r="3.25" fill="#164a7e"/>
<line x1="104" y1="478.03" x2="104" y2="480.41" stroke="#6a6a6a" stroke-width="0.9"/>
<line x1="102.4" y1="478.03" x2="105.6" y2="478.03" stroke="#6a6a6a" stroke-width="0.9"/>
<line x1="102.4" y1="480.41" x2="105.6" y2="480.41" stroke="#6a6a6a" stroke-width="0.9"/>
<circle cx="104" cy="479.22" r="3.25" fill="#164a7e"/>
<line x1="121" y1="478.15" x2="121" y2="480.53" stroke="#6a6a6a" stroke-width="0.9"/>
<line x1="119.4" y1="478.15" x2="122.6" y2="478.15" stroke="#6a6a6a" stroke-width="0.9"/>
<line x1="119.4" y1="480.53" x2="122.6" y2="480.53" stroke="#6a6a6a" stroke-width="0.9"/>
<circle cx="121" cy="479.34" r="3.25" fill="#164a7e"/>
<line x1="138" y1="478.15" x2="138" y2="480.53" stroke="#6a6a6a" stroke-width="0.9"/>
<line x1="136.4" y1="478.15" x2="139.6" y2="478.15" stroke="#6a6a6a" stroke-width="0.9"/>
<line x1="136.4" y1="480.53" x2="139.6" y2="480.53" stroke="#6a6a6a" stroke-width="0.9"/>
<circle cx="138" cy="479.34" r="3.25" fill="#164a7e"/>
<line x1="155" y1="425.88" x2="155" y2="433.51" stroke="#6a6a6a" stroke-width="0.9"/>
<line x1="153.4" y1="425.88" x2="156.6" y2="425.88" stroke="#6a6a6a" stroke-width="0.9"/>
<line x1="153.4" y1="433.51" x2="156.6" y2="433.51" stroke="#6a6a6a" stroke-width="0.9"/>
<circle cx="155" cy="429.69" r="3.25" fill="#164a7e"/>
<line x1="172" y1="438.93" x2="172" y2="442.51" stroke="#6a6a6a" stroke-width="0.9"/>
<line x1="170.4" y1="438.93" x2="173.6" y2="438.93" stroke="#6a6a6a" stroke-width="0.9"/>
<line x1="170.4" y1="442.51" x2="173.6" y2="442.51" stroke="#6a6a6a" stroke-width="0.9"/>
<circle cx="172" cy="440.72" r="3.25" fill="#164a7e"/>
<line x1="189" y1="442.86" x2="189" y2="446.44" stroke="#6a6a6a" stroke-width="0.9"/>
<line x1="187.4" y1="442.86" x2="190.6" y2="442.86" stroke="#6a6a6a" stroke-width="0.9"/>
<line x1="187.4" y1="446.44" x2="190.6" y2="446.44" stroke="#6a6a6a" stroke-width="0.9"/>
<circle cx="189" cy="444.65" r="3.25" fill="#164a7e"/>
<line x1="206" y1="486.67" x2="206" y2="489.05" stroke="#6a6a6a" stroke-width="0.9"/>
<line x1="204.4" y1="486.67" x2="207.6" y2="486.67" stroke="#6a6a6a" stroke-width="0.9"/>
<line x1="204.4" y1="489.05" x2="207.6" y2="489.05" stroke="#6a6a6a" stroke-width="0.9"/>
<circle cx="206" cy="487.86" r="3.25" fill="#164a7e"/>
<line x1="223" y1="486.67" x2="223" y2="489.05" stroke="#6a6a6a" stroke-width="0.9"/>
<line x1="221.4" y1="486.67" x2="224.6" y2="486.67" stroke="#6a6a6a" stroke-width="0.9"/>
<line x1="221.4" y1="489.05" x2="224.6" y2="489.05" stroke="#6a6a6a" stroke-width="0.9"/>
<circle cx="223" cy="487.86" r="3.25" fill="#164a7e"/>
<line x1="240" y1="486.79" x2="240" y2="489.17" stroke="#6a6a6a" stroke-width="0.9"/>
<line x1="238.4" y1="486.79" x2="241.6" y2="486.79" stroke="#6a6a6a" stroke-width="0.9"/>
<line x1="238.4" y1="489.17" x2="241.6" y2="489.17" stroke="#6a6a6a" stroke-width="0.9"/>
<circle cx="240" cy="487.98" r="3.25" fill="#164a7e"/>
<line x1="53" y1="428.2" x2="53" y2="430.59" stroke="#6a6a6a" stroke-width="0.9"/>
<line x1="51.4" y1="428.2" x2="54.6" y2="428.2" stroke="#6a6a6a" stroke-width="0.9"/>
<line x1="51.4" y1="430.59" x2="54.6" y2="430.59" stroke="#6a6a6a" stroke-width="0.9"/>
<circle cx="53" cy="429.4" r="3.25" fill="#c90b2f"/>
<line x1="70" y1="434.46" x2="70" y2="436.85" stroke="#6a6a6a" stroke-width="0.9"/>
<line x1="68.4" y1="434.46" x2="71.6" y2="434.46" stroke="#6a6a6a" stroke-width="0.9"/>
<line x1="68.4" y1="436.85" x2="71.6" y2="436.85" stroke="#6a6a6a" stroke-width="0.9"/>
<circle cx="70" cy="435.65" r="3.25" fill="#c90b2f"/>
<line x1="87" y1="437.86" x2="87" y2="440.24" stroke="#6a6a6a" stroke-width="0.9"/>
<line x1="85.4" y1="437.86" x2="88.6" y2="437.86" stroke="#6a6a6a" stroke-width="0.9"/>
<line x1="85.4" y1="440.24" x2="88.6" y2="440.24" stroke="#6a6a6a" stroke-width="0.9"/>
<circle cx="87" cy="439.05" r="3.25" fill="#c90b2f"/>
<line x1="104" y1="472.19" x2="104" y2="474.57" stroke="#6a6a6a" stroke-width="0.9"/>
<line x1="102.4" y1="472.19" x2="105.6" y2="472.19" stroke="#6a6a6a" stroke-width="0.9"/>
<line x1="102.4" y1="474.57" x2="105.6" y2="474.57" stroke="#6a6a6a" stroke-width="0.9"/>
<circle cx="104" cy="473.38" r="3.25" fill="#c90b2f"/>
<line x1="121" y1="473.62" x2="121" y2="476" stroke="#6a6a6a" stroke-width="0.9"/>
<line x1="119.4" y1="473.62" x2="122.6" y2="473.62" stroke="#6a6a6a" stroke-width="0.9"/>
<line x1="119.4" y1="476" x2="122.6" y2="476" stroke="#6a6a6a" stroke-width="0.9"/>
<circle cx="121" cy="474.81" r="3.25" fill="#c90b2f"/>
<line x1="138" y1="474.45" x2="138" y2="476.84" stroke="#6a6a6a" stroke-width="0.9"/>
<line x1="136.4" y1="474.45" x2="139.6" y2="474.45" stroke="#6a6a6a" stroke-width="0.9"/>
<line x1="136.4" y1="476.84" x2="139.6" y2="476.84" stroke="#6a6a6a" stroke-width="0.9"/>
<circle cx="138" cy="475.64" r="3.25" fill="#c90b2f"/>
<line x1="155" y1="403.65" x2="155" y2="409.01" stroke="#6a6a6a" stroke-width="0.9"/>
<line x1="153.4" y1="403.65" x2="156.6" y2="403.65" stroke="#6a6a6a" stroke-width="0.9"/>
<line x1="153.4" y1="409.01" x2="156.6" y2="409.01" stroke="#6a6a6a" stroke-width="0.9"/>
<circle cx="155" cy="406.33" r="3.25" fill="#c90b2f"/>
<line x1="172" y1="414.55" x2="172" y2="422.78" stroke="#6a6a6a" stroke-width="0.9"/>
<line x1="170.4" y1="414.55" x2="173.6" y2="414.55" stroke="#6a6a6a" stroke-width="0.9"/>
<line x1="170.4" y1="422.78" x2="173.6" y2="422.78" stroke="#6a6a6a" stroke-width="0.9"/>
<circle cx="172" cy="418.67" r="3.25" fill="#c90b2f"/>
<line x1="189" y1="418.91" x2="189" y2="425.94" stroke="#6a6a6a" stroke-width="0.9"/>
<line x1="187.4" y1="418.91" x2="190.6" y2="418.91" stroke="#6a6a6a" stroke-width="0.9"/>
<line x1="187.4" y1="425.94" x2="190.6" y2="425.94" stroke="#6a6a6a" stroke-width="0.9"/>
<circle cx="189" cy="422.42" r="3.25" fill="#c90b2f"/>
<line x1="206" y1="483.39" x2="206" y2="485.78" stroke="#6a6a6a" stroke-width="0.9"/>
<line x1="204.4" y1="483.39" x2="207.6" y2="483.39" stroke="#6a6a6a" stroke-width="0.9"/>
<line x1="204.4" y1="485.78" x2="207.6" y2="485.78" stroke="#6a6a6a" stroke-width="0.9"/>
<circle cx="206" cy="484.58" r="3.25" fill="#c90b2f"/>
<line x1="223" y1="484.11" x2="223" y2="486.49" stroke="#6a6a6a" stroke-width="0.9"/>
<line x1="221.4" y1="484.11" x2="224.6" y2="484.11" stroke="#6a6a6a" stroke-width="0.9"/>
<line x1="221.4" y1="486.49" x2="224.6" y2="486.49" stroke="#6a6a6a" stroke-width="0.9"/>
<circle cx="223" cy="485.3" r="3.25" fill="#c90b2f"/>
<line x1="240" y1="484.94" x2="240" y2="487.33" stroke="#6a6a6a" stroke-width="0.9"/>
<line x1="238.4" y1="484.94" x2="241.6" y2="484.94" stroke="#6a6a6a" stroke-width="0.9"/>
<line x1="238.4" y1="487.33" x2="241.6" y2="487.33" stroke="#6a6a6a" stroke-width="0.9"/>
<circle cx="240" cy="486.13" r="3.25" fill="#c90b2f"/>
<text x="7.15" y="372.9" font-size="11.8" text-anchor="start" fill="#111" font-weight="bold" stroke="#111" stroke-width="0.3">G</text>
<line x1="49.5" y1="565.1" x2="49.5" y2="678.1" stroke="#2a2a2a" stroke-width="1.1"/>
<line x1="46.5" y1="677.6" x2="49.5" y2="677.6" stroke="#2a2a2a" stroke-width="1"/>
<text transform="translate(43.5,680.1) scale(1.15,1)" font-size="7.3" text-anchor="end" fill="#2a2a2a" stroke="#2a2a2a" stroke-width="0.15">0.0</text>
<line x1="46.5" y1="661.75" x2="49.5" y2="661.75" stroke="#2a2a2a" stroke-width="1"/>
<text transform="translate(43.5,664.25) scale(1.15,1)" font-size="7.3" text-anchor="end" fill="#2a2a2a" stroke="#2a2a2a" stroke-width="0.15">5.0</text>
<line x1="46.5" y1="645.91" x2="49.5" y2="645.91" stroke="#2a2a2a" stroke-width="1"/>
<text transform="translate(43.5,648.41) scale(1.15,1)" font-size="7.3" text-anchor="end" fill="#2a2a2a" stroke="#2a2a2a" stroke-width="0.15">10.0</text>
<line x1="46.5" y1="630.07" x2="49.5" y2="630.07" stroke="#2a2a2a" stroke-width="1"/>
<text transform="translate(43.5,632.57) scale(1.15,1)" font-size="7.3" text-anchor="end" fill="#2a2a2a" stroke="#2a2a2a" stroke-width="0.15">15.0</text>
<line x1="46.5" y1="614.22" x2="49.5" y2="614.22" stroke="#2a2a2a" stroke-width="1"/>
<text transform="translate(43.5,616.72) scale(1.15,1)" font-size="7.3" text-anchor="end" fill="#2a2a2a" stroke="#2a2a2a" stroke-width="0.15">20.0</text>
<line x1="46.5" y1="598.38" x2="49.5" y2="598.38" stroke="#2a2a2a" stroke-width="1"/>
<text transform="translate(43.5,600.88) scale(1.15,1)" font-size="7.3" text-anchor="end" fill="#2a2a2a" stroke="#2a2a2a" stroke-width="0.15">25.0</text>
<line x1="46.5" y1="582.53" x2="49.5" y2="582.53" stroke="#2a2a2a" stroke-width="1"/>
<text transform="translate(43.5,585.03) scale(1.15,1)" font-size="7.3" text-anchor="end" fill="#2a2a2a" stroke="#2a2a2a" stroke-width="0.15">30.0</text>
<line x1="46.5" y1="566.69" x2="49.5" y2="566.69" stroke="#2a2a2a" stroke-width="1"/>
<text transform="translate(43.5,569.19) scale(1.15,1)" font-size="7.3" text-anchor="end" fill="#2a2a2a" stroke="#2a2a2a" stroke-width="0.15">35.0</text>
<line x1="49" y1="677.6" x2="255.7" y2="677.6" stroke="#2a2a2a" stroke-width="1.1"/>
<line x1="49.65" y1="677.6" x2="49.65" y2="680.6" stroke="#2a2a2a" stroke-width="1"/>
<text transform="translate(49.65,691.2) scale(1.15,1)" font-size="7.3" text-anchor="middle" fill="#2a2a2a" stroke="#2a2a2a" stroke-width="0.15">0</text>
<line x1="75.05" y1="677.6" x2="75.05" y2="680.6" stroke="#2a2a2a" stroke-width="1"/>
<text transform="translate(75.05,691.2) scale(1.15,1)" font-size="7.3" text-anchor="middle" fill="#2a2a2a" stroke="#2a2a2a" stroke-width="0.15">10</text>
<line x1="100.45" y1="677.6" x2="100.45" y2="680.6" stroke="#2a2a2a" stroke-width="1"/>
<text transform="translate(100.45,691.2) scale(1.15,1)" font-size="7.3" text-anchor="middle" fill="#2a2a2a" stroke="#2a2a2a" stroke-width="0.15">20</text>
<line x1="125.85" y1="677.6" x2="125.85" y2="680.6" stroke="#2a2a2a" stroke-width="1"/>
<text transform="translate(125.85,691.2) scale(1.15,1)" font-size="7.3" text-anchor="middle" fill="#2a2a2a" stroke="#2a2a2a" stroke-width="0.15">30</text>
<line x1="151.25" y1="677.6" x2="151.25" y2="680.6" stroke="#2a2a2a" stroke-width="1"/>
<text transform="translate(151.25,691.2) scale(1.15,1)" font-size="7.3" text-anchor="middle" fill="#2a2a2a" stroke="#2a2a2a" stroke-width="0.15">40</text>
<line x1="176.65" y1="677.6" x2="176.65" y2="680.6" stroke="#2a2a2a" stroke-width="1"/>
<text transform="translate(176.65,691.2) scale(1.15,1)" font-size="7.3" text-anchor="middle" fill="#2a2a2a" stroke="#2a2a2a" stroke-width="0.15">50</text>
<line x1="202.05" y1="677.6" x2="202.05" y2="680.6" stroke="#2a2a2a" stroke-width="1"/>
<text transform="translate(202.05,691.2) scale(1.15,1)" font-size="7.3" text-anchor="middle" fill="#2a2a2a" stroke="#2a2a2a" stroke-width="0.15">60</text>
<line x1="227.45" y1="677.6" x2="227.45" y2="680.6" stroke="#2a2a2a" stroke-width="1"/>
<text transform="translate(227.45,691.2) scale(1.15,1)" font-size="7.3" text-anchor="middle" fill="#2a2a2a" stroke="#2a2a2a" stroke-width="0.15">70</text>
<line x1="252.85" y1="677.6" x2="252.85" y2="680.6" stroke="#2a2a2a" stroke-width="1"/>
<text transform="translate(252.85,691.2) scale(1.15,1)" font-size="7.3" text-anchor="middle" fill="#2a2a2a" stroke="#2a2a2a" stroke-width="0.15">80</text>
<text transform="translate(152.7,705) scale(0.78,1)" font-size="9.0" text-anchor="middle" fill="#2a2a2a" font-weight="normal" stroke="#2a2a2a" stroke-width="0.4">Time (min)</text>
<text transform="translate(17.1,620.95) rotate(-90) scale(0.752,1)" font-size="8.8" text-anchor="middle" dy="0.35em" fill="#2a2a2a" font-weight="bold" stroke="#2a2a2a" stroke-width="0.1">ECAR (mpH/min)</text>
<text transform="translate(68,586) scale(1.02,1)" font-size="8.3" text-anchor="start" fill="#c4304a" stroke="#c4304a" stroke-width="0.1">fl/fl</text>
<text transform="translate(67.7,597) scale(1.0,1)" font-size="8.3" text-anchor="start" fill="#34506e" stroke="#34506e" stroke-width="0.2">KO</text>
<polyline points="52.5,633.23 68.94,634.5 85.38,636.72 101.82,624.99 118.26,636.09 134.7,636.4 151.14,615.49 167.58,620.24 184.02,621.83 200.46,634.82 216.9,635.45 233.34,635.45" fill="none" stroke="#164a7e" stroke-width="1.0"/>
<polyline points="52.5,624.04 68.94,629.11 85.38,629.43 101.82,616.44 118.26,617.71 134.7,614.85 151.14,590.77 167.58,593.94 184.02,594.57 200.46,609.47 216.9,608.83 233.34,608.2" fill="none" stroke="#c90b2f" stroke-width="1.0"/>
<line x1="52.5" y1="631.65" x2="52.5" y2="634.82" stroke="#6a6a6a" stroke-width="0.9"/>
<line x1="50.9" y1="631.65" x2="54.1" y2="631.65" stroke="#6a6a6a" stroke-width="0.9"/>
<line x1="50.9" y1="634.82" x2="54.1" y2="634.82" stroke="#6a6a6a" stroke-width="0.9"/>
<circle cx="52.5" cy="633.23" r="3.05" fill="#164a7e"/>
<line x1="68.94" y1="632.92" x2="68.94" y2="636.09" stroke="#6a6a6a" stroke-width="0.9"/>
<line x1="67.34" y1="632.92" x2="70.54" y2="632.92" stroke="#6a6a6a" stroke-width="0.9"/>
<line x1="67.34" y1="636.09" x2="70.54" y2="636.09" stroke="#6a6a6a" stroke-width="0.9"/>
<circle cx="68.94" cy="634.5" r="3.05" fill="#164a7e"/>
<line x1="85.38" y1="635.14" x2="85.38" y2="638.3" stroke="#6a6a6a" stroke-width="0.9"/>
<line x1="83.78" y1="635.14" x2="86.98" y2="635.14" stroke="#6a6a6a" stroke-width="0.9"/>
<line x1="83.78" y1="638.3" x2="86.98" y2="638.3" stroke="#6a6a6a" stroke-width="0.9"/>
<circle cx="85.38" cy="636.72" r="3.05" fill="#164a7e"/>
<line x1="101.82" y1="623.41" x2="101.82" y2="626.58" stroke="#6a6a6a" stroke-width="0.9"/>
<line x1="100.22" y1="623.41" x2="103.42" y2="623.41" stroke="#6a6a6a" stroke-width="0.9"/>
<line x1="100.22" y1="626.58" x2="103.42" y2="626.58" stroke="#6a6a6a" stroke-width="0.9"/>
<circle cx="101.82" cy="624.99" r="3.05" fill="#164a7e"/>
<line x1="118.26" y1="634.5" x2="118.26" y2="637.67" stroke="#6a6a6a" stroke-width="0.9"/>
<line x1="116.66" y1="634.5" x2="119.86" y2="634.5" stroke="#6a6a6a" stroke-width="0.9"/>
<line x1="116.66" y1="637.67" x2="119.86" y2="637.67" stroke="#6a6a6a" stroke-width="0.9"/>
<circle cx="118.26" cy="636.09" r="3.05" fill="#164a7e"/>
<line x1="134.7" y1="634.82" x2="134.7" y2="637.99" stroke="#6a6a6a" stroke-width="0.9"/>
<line x1="133.1" y1="634.82" x2="136.3" y2="634.82" stroke="#6a6a6a" stroke-width="0.9"/>
<line x1="133.1" y1="637.99" x2="136.3" y2="637.99" stroke="#6a6a6a" stroke-width="0.9"/>
<circle cx="134.7" cy="636.4" r="3.05" fill="#164a7e"/>
<line x1="151.14" y1="613.9" x2="151.14" y2="617.07" stroke="#6a6a6a" stroke-width="0.9"/>
<line x1="149.54" y1="613.9" x2="152.74" y2="613.9" stroke="#6a6a6a" stroke-width="0.9"/>
<line x1="149.54" y1="617.07" x2="152.74" y2="617.07" stroke="#6a6a6a" stroke-width="0.9"/>
<circle cx="151.14" cy="615.49" r="3.05" fill="#164a7e"/>
<line x1="167.58" y1="618.66" x2="167.58" y2="621.83" stroke="#6a6a6a" stroke-width="0.9"/>
<line x1="165.98" y1="618.66" x2="169.18" y2="618.66" stroke="#6a6a6a" stroke-width="0.9"/>
<line x1="165.98" y1="621.83" x2="169.18" y2="621.83" stroke="#6a6a6a" stroke-width="0.9"/>
<circle cx="167.58" cy="620.24" r="3.05" fill="#164a7e"/>
<line x1="184.02" y1="620.24" x2="184.02" y2="623.41" stroke="#6a6a6a" stroke-width="0.9"/>
<line x1="182.42" y1="620.24" x2="185.62" y2="620.24" stroke="#6a6a6a" stroke-width="0.9"/>
<line x1="182.42" y1="623.41" x2="185.62" y2="623.41" stroke="#6a6a6a" stroke-width="0.9"/>
<circle cx="184.02" cy="621.83" r="3.05" fill="#164a7e"/>
<line x1="200.46" y1="633.23" x2="200.46" y2="636.4" stroke="#6a6a6a" stroke-width="0.9"/>
<line x1="198.86" y1="633.23" x2="202.06" y2="633.23" stroke="#6a6a6a" stroke-width="0.9"/>
<line x1="198.86" y1="636.4" x2="202.06" y2="636.4" stroke="#6a6a6a" stroke-width="0.9"/>
<circle cx="200.46" cy="634.82" r="3.05" fill="#164a7e"/>
<line x1="216.9" y1="633.87" x2="216.9" y2="637.04" stroke="#6a6a6a" stroke-width="0.9"/>
<line x1="215.3" y1="633.87" x2="218.5" y2="633.87" stroke="#6a6a6a" stroke-width="0.9"/>
<line x1="215.3" y1="637.04" x2="218.5" y2="637.04" stroke="#6a6a6a" stroke-width="0.9"/>
<circle cx="216.9" cy="635.45" r="3.05" fill="#164a7e"/>
<line x1="233.34" y1="633.87" x2="233.34" y2="637.04" stroke="#6a6a6a" stroke-width="0.9"/>
<line x1="231.74" y1="633.87" x2="234.94" y2="633.87" stroke="#6a6a6a" stroke-width="0.9"/>
<line x1="231.74" y1="637.04" x2="234.94" y2="637.04" stroke="#6a6a6a" stroke-width="0.9"/>
<circle cx="233.34" cy="635.45" r="3.05" fill="#164a7e"/>
<line x1="52.5" y1="622.46" x2="52.5" y2="625.63" stroke="#6a6a6a" stroke-width="0.9"/>
<line x1="50.9" y1="622.46" x2="54.1" y2="622.46" stroke="#6a6a6a" stroke-width="0.9"/>
<line x1="50.9" y1="625.63" x2="54.1" y2="625.63" stroke="#6a6a6a" stroke-width="0.9"/>
<circle cx="52.5" cy="624.04" r="3.05" fill="#c90b2f"/>
<line x1="68.94" y1="627.53" x2="68.94" y2="630.7" stroke="#6a6a6a" stroke-width="0.9"/>
<line x1="67.34" y1="627.53" x2="70.54" y2="627.53" stroke="#6a6a6a" stroke-width="0.9"/>
<line x1="67.34" y1="630.7" x2="70.54" y2="630.7" stroke="#6a6a6a" stroke-width="0.9"/>
<circle cx="68.94" cy="629.11" r="3.05" fill="#c90b2f"/>
<line x1="85.38" y1="627.85" x2="85.38" y2="631.02" stroke="#6a6a6a" stroke-width="0.9"/>
<line x1="83.78" y1="627.85" x2="86.98" y2="627.85" stroke="#6a6a6a" stroke-width="0.9"/>
<line x1="83.78" y1="631.02" x2="86.98" y2="631.02" stroke="#6a6a6a" stroke-width="0.9"/>
<circle cx="85.38" cy="629.43" r="3.05" fill="#c90b2f"/>
<line x1="101.82" y1="614.85" x2="101.82" y2="618.02" stroke="#6a6a6a" stroke-width="0.9"/>
<line x1="100.22" y1="614.85" x2="103.42" y2="614.85" stroke="#6a6a6a" stroke-width="0.9"/>
<line x1="100.22" y1="618.02" x2="103.42" y2="618.02" stroke="#6a6a6a" stroke-width="0.9"/>
<circle cx="101.82" cy="616.44" r="3.05" fill="#c90b2f"/>
<line x1="118.26" y1="616.12" x2="118.26" y2="619.29" stroke="#6a6a6a" stroke-width="0.9"/>
<line x1="116.66" y1="616.12" x2="119.86" y2="616.12" stroke="#6a6a6a" stroke-width="0.9"/>
<line x1="116.66" y1="619.29" x2="119.86" y2="619.29" stroke="#6a6a6a" stroke-width="0.9"/>
<circle cx="118.26" cy="617.71" r="3.05" fill="#c90b2f"/>
<line x1="134.7" y1="613.27" x2="134.7" y2="616.44" stroke="#6a6a6a" stroke-width="0.9"/>
<line x1="133.1" y1="613.27" x2="136.3" y2="613.27" stroke="#6a6a6a" stroke-width="0.9"/>
<line x1="133.1" y1="616.44" x2="136.3" y2="616.44" stroke="#6a6a6a" stroke-width="0.9"/>
<circle cx="134.7" cy="614.85" r="3.05" fill="#c90b2f"/>
<line x1="151.14" y1="586.97" x2="151.14" y2="594.57" stroke="#6a6a6a" stroke-width="0.9"/>
<line x1="149.54" y1="586.97" x2="152.74" y2="586.97" stroke="#6a6a6a" stroke-width="0.9"/>
<line x1="149.54" y1="594.57" x2="152.74" y2="594.57" stroke="#6a6a6a" stroke-width="0.9"/>
<circle cx="151.14" cy="590.77" r="3.05" fill="#c90b2f"/>
<line x1="167.58" y1="590.77" x2="167.58" y2="597.11" stroke="#6a6a6a" stroke-width="0.9"/>
<line x1="165.98" y1="590.77" x2="169.18" y2="590.77" stroke="#6a6a6a" stroke-width="0.9"/>
<line x1="165.98" y1="597.11" x2="169.18" y2="597.11" stroke="#6a6a6a" stroke-width="0.9"/>
<circle cx="167.58" cy="593.94" r="3.05" fill="#c90b2f"/>
<line x1="184.02" y1="591.4" x2="184.02" y2="597.74" stroke="#6a6a6a" stroke-width="0.9"/>
<line x1="182.42" y1="591.4" x2="185.62" y2="591.4" stroke="#6a6a6a" stroke-width="0.9"/>
<line x1="182.42" y1="597.74" x2="185.62" y2="597.74" stroke="#6a6a6a" stroke-width="0.9"/>
<circle cx="184.02" cy="594.57" r="3.05" fill="#c90b2f"/>
<line x1="200.46" y1="607.88" x2="200.46" y2="611.05" stroke="#6a6a6a" stroke-width="0.9"/>
<line x1="198.86" y1="607.88" x2="202.06" y2="607.88" stroke="#6a6a6a" stroke-width="0.9"/>
<line x1="198.86" y1="611.05" x2="202.06" y2="611.05" stroke="#6a6a6a" stroke-width="0.9"/>
<circle cx="200.46" cy="609.47" r="3.05" fill="#c90b2f"/>
<line x1="216.9" y1="607.25" x2="216.9" y2="610.42" stroke="#6a6a6a" stroke-width="0.9"/>
<line x1="215.3" y1="607.25" x2="218.5" y2="607.25" stroke="#6a6a6a" stroke-width="0.9"/>
<line x1="215.3" y1="610.42" x2="218.5" y2="610.42" stroke="#6a6a6a" stroke-width="0.9"/>
<circle cx="216.9" cy="608.83" r="3.05" fill="#c90b2f"/>
<line x1="233.34" y1="606.61" x2="233.34" y2="609.78" stroke="#6a6a6a" stroke-width="0.9"/>
<line x1="231.74" y1="606.61" x2="234.94" y2="606.61" stroke="#6a6a6a" stroke-width="0.9"/>
<line x1="231.74" y1="609.78" x2="234.94" y2="609.78" stroke="#6a6a6a" stroke-width="0.9"/>
<circle cx="233.34" cy="608.2" r="3.05" fill="#c90b2f"/>
<text x="10.9" y="549.75" font-size="11.8" text-anchor="start" fill="#111" font-weight="bold" stroke="#111" stroke-width="0.3">J</text>
<rect x="322.05" y="53.98" width="20.3" height="89.62" fill="#e2897a"/>
<rect x="354.85" y="92.28" width="20.3" height="51.32" fill="#8c98bb"/>
<line x1="332.2" y1="45.14" x2="332.2" y2="60.66" stroke="#a31a33" stroke-width="1"/>
<line x1="329.7" y1="45.14" x2="334.7" y2="45.14" stroke="#a31a33" stroke-width="1"/>
<line x1="329.7" y1="60.66" x2="334.7" y2="60.66" stroke="#a31a33" stroke-width="1"/>
<line x1="365" y1="80.15" x2="365" y2="105.08" stroke="#2c4a6e" stroke-width="1"/>
<circle cx="332.3" cy="41.3" r="1.65" fill="#bf0d2d"/>
<circle cx="329" cy="45.3" r="1.65" fill="#bf0d2d"/>
<circle cx="335.3" cy="46" r="1.65" fill="#bf0d2d"/>
<circle cx="329.3" cy="49" r="1.65" fill="#bf0d2d"/>
<circle cx="335.3" cy="51.6" r="1.65" fill="#bf0d2d"/>
<circle cx="323.2" cy="56.6" r="1.65" fill="#bf0d2d"/>
<circle cx="329.3" cy="57.2" r="1.65" fill="#bf0d2d"/>
<circle cx="341.4" cy="56.9" r="1.65" fill="#bf0d2d"/>
<circle cx="335.3" cy="59.8" r="1.65" fill="#bf0d2d"/>
<circle cx="332.3" cy="67" r="1.65" fill="#bf0d2d"/>
<rect x="363.25" y="62.85" width="3.5" height="3.5" fill="#164a7e"/>
<rect x="363.25" y="71.35" width="3.5" height="3.5" fill="#164a7e"/>
<rect x="360.25" y="79.75" width="3.5" height="3.5" fill="#164a7e"/>
<rect x="366.5" y="78.25" width="3.5" height="3.5" fill="#164a7e"/>
<rect x="360.25" y="86.5" width="3.5" height="3.5" fill="#164a7e"/>
<rect x="366.5" y="85.25" width="3.5" height="3.5" fill="#164a7e"/>
<rect x="354" y="87.55" width="3.5" height="3.5" fill="#164a7e"/>
<rect x="354" y="91.05" width="3.5" height="3.5" fill="#164a7e"/>
<rect x="372.25" y="84.65" width="3.5" height="3.5" fill="#164a7e"/>
<rect x="372.25" y="88.15" width="3.5" height="3.5" fill="#164a7e"/>
<rect x="372.25" y="94.25" width="3.5" height="3.5" fill="#164a7e"/>
<rect x="360.25" y="91.75" width="3.5" height="3.5" fill="#164a7e"/>
<rect x="366.5" y="92" width="3.5" height="3.5" fill="#164a7e"/>
<rect x="360.25" y="97.25" width="3.5" height="3.5" fill="#164a7e"/>
<rect x="366.5" y="97.25" width="3.5" height="3.5" fill="#164a7e"/>
<rect x="363.25" y="102.25" width="3.5" height="3.5" fill="#164a7e"/>
<rect x="360.25" y="107.25" width="3.5" height="3.5" fill="#164a7e"/>
<rect x="366.5" y="107.25" width="3.5" height="3.5" fill="#164a7e"/>
<line x1="310.6" y1="27.8" x2="310.6" y2="144.1" stroke="#2a2a2a" stroke-width="1.1"/>
<line x1="307.6" y1="143.6" x2="310.6" y2="143.6" stroke="#2a2a2a" stroke-width="1"/>
<text transform="translate(304.6,146.1) scale(1.15,1)" font-size="7.3" text-anchor="end" fill="#2a2a2a" stroke="#2a2a2a" stroke-width="0.15">0</text>
<line x1="307.6" y1="120.94" x2="310.6" y2="120.94" stroke="#2a2a2a" stroke-width="1"/>
<text transform="translate(304.6,123.44) scale(1.15,1)" font-size="7.3" text-anchor="end" fill="#2a2a2a" stroke="#2a2a2a" stroke-width="0.15">20</text>
<line x1="307.6" y1="98.28" x2="310.6" y2="98.28" stroke="#2a2a2a" stroke-width="1"/>
<text transform="translate(304.6,100.78) scale(1.15,1)" font-size="7.3" text-anchor="end" fill="#2a2a2a" stroke="#2a2a2a" stroke-width="0.15">40</text>
<line x1="307.6" y1="75.62" x2="310.6" y2="75.62" stroke="#2a2a2a" stroke-width="1"/>
<text transform="translate(304.6,78.12) scale(1.15,1)" font-size="7.3" text-anchor="end" fill="#2a2a2a" stroke="#2a2a2a" stroke-width="0.15">60</text>
<line x1="307.6" y1="52.96" x2="310.6" y2="52.96" stroke="#2a2a2a" stroke-width="1"/>
<text transform="translate(304.6,55.46) scale(1.15,1)" font-size="7.3" text-anchor="end" fill="#2a2a2a" stroke="#2a2a2a" stroke-width="0.15">80</text>
<line x1="307.6" y1="30.3" x2="310.6" y2="30.3" stroke="#2a2a2a" stroke-width="1"/>
<text transform="translate(304.6,32.8) scale(1.15,1)" font-size="7.3" text-anchor="end" fill="#2a2a2a" stroke="#2a2a2a" stroke-width="0.15">100</text>
<line x1="310.1" y1="143.6" x2="386.7" y2="143.6" stroke="#2a2a2a" stroke-width="1.1"/>
<line x1="332.2" y1="143.6" x2="332.2" y2="146.6" stroke="#2a2a2a" stroke-width="1"/>
<line x1="365" y1="143.6" x2="365" y2="146.6" stroke="#2a2a2a" stroke-width="1"/>
<text transform="translate(332.2,156.8) scale(1.17,1)" font-size="7.3" text-anchor="middle" fill="#c4304a" stroke="#c4304a" stroke-width="0.2">fl/fl</text>
<text transform="translate(365,156.8) scale(1.17,1)" font-size="7.3" text-anchor="middle" fill="#34506e" stroke="#34506e" stroke-width="0.25">KO</text>
<line x1="332.5" y1="32.3" x2="365.4" y2="32.3" stroke="#2a2a2a" stroke-width="1.25"/>
<circle cx="344.2" cy="27.9" r="1.05" fill="#222"/>
<circle cx="347.4" cy="27.9" r="1.05" fill="#222"/>
<circle cx="350.6" cy="27.9" r="1.05" fill="#222"/>
<circle cx="353.8" cy="27.9" r="1.05" fill="#222"/>
<text x="349" y="17.6" font-size="9.6" text-anchor="middle" fill="#2a2a2a" font-weight="normal" stroke="#2a2a2a" stroke-width="0.12">Max</text>
<text transform="translate(280.85,85.6) rotate(-90) scale(0.752,1)" font-size="8.8" text-anchor="middle" dy="0.35em" fill="#2a2a2a" font-weight="bold" stroke="#2a2a2a" stroke-width="0.1">OCR (pmol/min)</text>
<text x="275.4" y="17.4" font-size="11.8" text-anchor="start" fill="#111" font-weight="bold" stroke="#111" stroke-width="0.3">B</text>
<rect x="443.65" y="61.03" width="20.3" height="40.47" fill="#e2897a"/>
<rect x="476.25" y="101.5" width="20.3" height="8.87" fill="#8c98bb"/>
<line x1="453.8" y1="50.02" x2="453.8" y2="70.04" stroke="#a31a33" stroke-width="1"/>
<line x1="448.55" y1="50.02" x2="459.05" y2="50.02" stroke="#a31a33" stroke-width="1"/>
<line x1="448.55" y1="70.04" x2="459.05" y2="70.04" stroke="#a31a33" stroke-width="1"/>
<circle cx="446.9" cy="45.8" r="1.65" fill="#bf0d2d"/>
<circle cx="453.9" cy="47.6" r="1.65" fill="#bf0d2d"/>
<circle cx="453.9" cy="50.9" r="1.65" fill="#bf0d2d"/>
<circle cx="446.9" cy="59.1" r="1.65" fill="#bf0d2d"/>
<circle cx="460.7" cy="57.4" r="1.65" fill="#bf0d2d"/>
<circle cx="453.9" cy="60.2" r="1.65" fill="#bf0d2d"/>
<circle cx="446.9" cy="65.8" r="1.65" fill="#bf0d2d"/>
<circle cx="453.9" cy="68.6" r="1.65" fill="#bf0d2d"/>
<circle cx="460.7" cy="68.2" r="1.65" fill="#bf0d2d"/>
<circle cx="453.9" cy="77.3" r="1.65" fill="#bf0d2d"/>
<rect x="486.45" y="95.05" width="3.5" height="3.5" fill="#164a7e"/>
<rect x="482.35" y="97.45" width="3.5" height="3.5" fill="#164a7e"/>
<rect x="478.05" y="102.35" width="3.5" height="3.5" fill="#164a7e"/>
<rect x="481.65" y="102.55" width="3.5" height="3.5" fill="#164a7e"/>
<rect x="485.25" y="102.35" width="3.5" height="3.5" fill="#164a7e"/>
<rect x="488.85" y="102.55" width="3.5" height="3.5" fill="#164a7e"/>
<rect x="492.05" y="102.75" width="3.5" height="3.5" fill="#164a7e"/>
<rect x="475.45" y="106.55" width="3.5" height="3.5" fill="#164a7e"/>
<rect x="479.05" y="106.75" width="3.5" height="3.5" fill="#164a7e"/>
<rect x="482.65" y="106.55" width="3.5" height="3.5" fill="#164a7e"/>
<rect x="486.25" y="106.85" width="3.5" height="3.5" fill="#164a7e"/>
<rect x="489.85" y="106.55" width="3.5" height="3.5" fill="#164a7e"/>
<rect x="492.65" y="106.35" width="3.5" height="3.5" fill="#164a7e"/>
<rect x="479.45" y="110.45" width="3.5" height="3.5" fill="#164a7e"/>
<rect x="483.05" y="110.25" width="3.5" height="3.5" fill="#164a7e"/>
<rect x="486.65" y="110.55" width="3.5" height="3.5" fill="#164a7e"/>
<rect x="490.05" y="110.35" width="3.5" height="3.5" fill="#164a7e"/>
<rect x="480.05" y="114.05" width="3.5" height="3.5" fill="#164a7e"/>
<rect x="483.65" y="114.25" width="3.5" height="3.5" fill="#164a7e"/>
<rect x="487.25" y="114.05" width="3.5" height="3.5" fill="#164a7e"/>
<rect x="490.05" y="113.65" width="3.5" height="3.5" fill="#164a7e"/>
<rect x="485.75" y="116.75" width="3.5" height="3.5" fill="#164a7e"/>
<rect x="484.45" y="128.95" width="3.5" height="3.5" fill="#164a7e"/>
<line x1="432.4" y1="29.6" x2="432.4" y2="144.4" stroke="#2a2a2a" stroke-width="1.1"/>
<line x1="429.4" y1="130.1" x2="432.4" y2="130.1" stroke="#2a2a2a" stroke-width="1"/>
<text transform="translate(426.4,132.6) scale(1.15,1)" font-size="7.3" text-anchor="end" fill="#2a2a2a" stroke="#2a2a2a" stroke-width="0.15">−20</text>
<line x1="429.4" y1="101.5" x2="432.4" y2="101.5" stroke="#2a2a2a" stroke-width="1"/>
<text transform="translate(426.4,104) scale(1.15,1)" font-size="7.3" text-anchor="end" fill="#2a2a2a" stroke="#2a2a2a" stroke-width="0.15">0</text>
<line x1="429.4" y1="72.9" x2="432.4" y2="72.9" stroke="#2a2a2a" stroke-width="1"/>
<text transform="translate(426.4,75.4) scale(1.15,1)" font-size="7.3" text-anchor="end" fill="#2a2a2a" stroke="#2a2a2a" stroke-width="0.15">20</text>
<line x1="429.4" y1="44.3" x2="432.4" y2="44.3" stroke="#2a2a2a" stroke-width="1"/>
<text transform="translate(426.4,46.8) scale(1.15,1)" font-size="7.3" text-anchor="end" fill="#2a2a2a" stroke="#2a2a2a" stroke-width="0.15">40</text>
<line x1="432.4" y1="101.5" x2="508.9" y2="101.5" stroke="#2a2a2a" stroke-width="1"/>
<line x1="431.9" y1="143.9" x2="508.9" y2="143.9" stroke="#2a2a2a" stroke-width="1.1"/>
<line x1="453.8" y1="143.9" x2="453.8" y2="146.9" stroke="#2a2a2a" stroke-width="1"/>
<line x1="486.4" y1="143.9" x2="486.4" y2="146.9" stroke="#2a2a2a" stroke-width="1"/>
<text transform="translate(453.8,157.1) scale(1.17,1)" font-size="7.3" text-anchor="middle" fill="#c4304a" stroke="#c4304a" stroke-width="0.2">fl/fl</text>
<text transform="translate(486.4,157.1) scale(1.17,1)" font-size="7.3" text-anchor="middle" fill="#34506e" stroke="#34506e" stroke-width="0.25">KO</text>
<line x1="454.1" y1="35.4" x2="486.9" y2="35.4" stroke="#2a2a2a" stroke-width="1.25"/>
<circle cx="465.5" cy="30.8" r="1.05" fill="#222"/>
<circle cx="468.7" cy="30.8" r="1.05" fill="#222"/>
<circle cx="471.9" cy="30.8" r="1.05" fill="#222"/>
<circle cx="475.1" cy="30.8" r="1.05" fill="#222"/>
<text x="470.5" y="18.6" font-size="10.3" text-anchor="middle" fill="#2a2a2a" font-weight="normal" stroke="#2a2a2a" stroke-width="0.12">SRC</text>
<text transform="translate(402.5,87.2) rotate(-90) scale(0.752,1)" font-size="8.8" text-anchor="middle" dy="0.35em" fill="#2a2a2a" font-weight="bold" stroke="#2a2a2a" stroke-width="0.1">OCR (pmol/min)</text>
<text x="397.15" y="17.6" font-size="11.8" text-anchor="start" fill="#111" font-weight="bold" stroke="#111" stroke-width="0.3">C</text>
<rect x="322.15" y="255.08" width="20.3" height="28.12" fill="#e2897a"/>
<rect x="355.05" y="283.2" width="20.3" height="12.31" fill="#8c98bb"/>
<line x1="332.3" y1="236.08" x2="332.3" y2="272.56" stroke="#a31a33" stroke-width="1"/>
<line x1="327.05" y1="236.08" x2="337.55" y2="236.08" stroke="#a31a33" stroke-width="1"/>
<line x1="327.05" y1="272.56" x2="337.55" y2="272.56" stroke="#a31a33" stroke-width="1"/>
<line x1="365.2" y1="286.24" x2="365.2" y2="302.96" stroke="#2c4a6e" stroke-width="1"/>
<circle cx="332.3" cy="230.5" r="1.65" fill="#bf0d2d"/>
<circle cx="332.3" cy="239.2" r="1.65" fill="#bf0d2d"/>
<circle cx="332.3" cy="248.9" r="1.65" fill="#bf0d2d"/>
<circle cx="332.3" cy="254.3" r="1.65" fill="#bf0d2d"/>
<circle cx="328.7" cy="276.3" r="1.65" fill="#bf0d2d"/>
<circle cx="335.6" cy="273.8" r="1.65" fill="#bf0d2d"/>
<rect x="359.6" y="284.6" width="3.6" height="3.6" fill="#164a7e"/>
<rect x="366.8" y="284.6" width="3.6" height="3.6" fill="#164a7e"/>
<rect x="359.6" y="298.8" width="3.6" height="3.6" fill="#164a7e"/>
<rect x="359.6" y="301.6" width="3.6" height="3.6" fill="#164a7e"/>
<rect x="366.8" y="298.8" width="3.6" height="3.6" fill="#164a7e"/>
<rect x="366.8" y="301.6" width="3.6" height="3.6" fill="#164a7e"/>
<line x1="310.5" y1="204.2" x2="310.5" y2="321.7" stroke="#2a2a2a" stroke-width="1.1"/>
<line x1="307.5" y1="321.2" x2="310.5" y2="321.2" stroke="#2a2a2a" stroke-width="1"/>
<text transform="translate(304.5,323.7) scale(1.15,1)" font-size="7.3" text-anchor="end" fill="#2a2a2a" stroke="#2a2a2a" stroke-width="0.15">−5</text>
<line x1="307.5" y1="283.2" x2="310.5" y2="283.2" stroke="#2a2a2a" stroke-width="1"/>
<text transform="translate(304.5,285.7) scale(1.15,1)" font-size="7.3" text-anchor="end" fill="#2a2a2a" stroke="#2a2a2a" stroke-width="0.15">0</text>
<line x1="307.5" y1="245.2" x2="310.5" y2="245.2" stroke="#2a2a2a" stroke-width="1"/>
<text transform="translate(304.5,247.7) scale(1.15,1)" font-size="7.3" text-anchor="end" fill="#2a2a2a" stroke="#2a2a2a" stroke-width="0.15">5</text>
<line x1="307.5" y1="207.2" x2="310.5" y2="207.2" stroke="#2a2a2a" stroke-width="1"/>
<text transform="translate(304.5,209.7) scale(1.15,1)" font-size="7.3" text-anchor="end" fill="#2a2a2a" stroke="#2a2a2a" stroke-width="0.15">10</text>
<line x1="310.5" y1="283.2" x2="387.5" y2="283.2" stroke="#2a2a2a" stroke-width="1"/>
<line x1="310" y1="321.2" x2="387.5" y2="321.2" stroke="#2a2a2a" stroke-width="1.1"/>
<line x1="332.3" y1="321.2" x2="332.3" y2="324.2" stroke="#2a2a2a" stroke-width="1"/>
<line x1="365.2" y1="321.2" x2="365.2" y2="324.2" stroke="#2a2a2a" stroke-width="1"/>
<text transform="translate(332.3,334.4) scale(1.17,1)" font-size="7.3" text-anchor="middle" fill="#c4304a" stroke="#c4304a" stroke-width="0.2">fl/fl</text>
<text transform="translate(365.2,334.4) scale(1.17,1)" font-size="7.3" text-anchor="middle" fill="#34506e" stroke="#34506e" stroke-width="0.25">KO</text>
<line x1="332.2" y1="217.3" x2="365.4" y2="217.3" stroke="#2a2a2a" stroke-width="1.25"/>
<circle cx="345.8" cy="212.7" r="1.05" fill="#222"/>
<circle cx="349" cy="212.7" r="1.05" fill="#222"/>
<circle cx="352.2" cy="212.7" r="1.05" fill="#222"/>
<text x="349" y="195.6" font-size="10.3" text-anchor="middle" fill="#2a2a2a" font-weight="normal" stroke="#2a2a2a" stroke-width="0.12">w/Oligo</text>
<text transform="translate(286.1,262.5) rotate(-90) scale(0.752,1)" font-size="8.8" text-anchor="middle" dy="0.35em" fill="#2a2a2a" font-weight="bold" stroke="#2a2a2a" stroke-width="0.1">ECAR (mpH/min)</text>
<text x="281.25" y="193.95" font-size="11.8" text-anchor="start" fill="#111" font-weight="bold" stroke="#111" stroke-width="0.3">E</text>
<rect x="444.15" y="231.62" width="20.3" height="88.98" fill="#e2897a"/>
<rect x="476.65" y="277.47" width="20.3" height="43.13" fill="#8c98bb"/>
<line x1="454.3" y1="224.35" x2="454.3" y2="235.25" stroke="#a31a33" stroke-width="1"/>
<line x1="447.05" y1="224.35" x2="461.55" y2="224.35" stroke="#a31a33" stroke-width="1"/>
<line x1="447.05" y1="235.25" x2="461.55" y2="235.25" stroke="#a31a33" stroke-width="1"/>
<circle cx="446.9" cy="224.9" r="1.65" fill="#bf0d2d"/>
<circle cx="454.5" cy="224.9" r="1.65" fill="#bf0d2d"/>
<circle cx="461.4" cy="224.9" r="1.65" fill="#bf0d2d"/>
<circle cx="446.9" cy="235.6" r="1.65" fill="#bf0d2d"/>
<circle cx="454.5" cy="235.6" r="1.65" fill="#bf0d2d"/>
<circle cx="461.4" cy="235.6" r="1.65" fill="#bf0d2d"/>
<rect x="478.5" y="273.8" width="3.6" height="3.6" fill="#164a7e"/>
<rect x="485.1" y="271.6" width="3.6" height="3.6" fill="#164a7e"/>
<rect x="491.7" y="273.8" width="3.6" height="3.6" fill="#164a7e"/>
<rect x="478.5" y="276.5" width="3.6" height="3.6" fill="#164a7e"/>
<rect x="485.1" y="275.5" width="3.6" height="3.6" fill="#164a7e"/>
<rect x="491.7" y="276.5" width="3.6" height="3.6" fill="#164a7e"/>
<line x1="432.4" y1="204.5" x2="432.4" y2="321.1" stroke="#2a2a2a" stroke-width="1.1"/>
<line x1="429.4" y1="320.6" x2="432.4" y2="320.6" stroke="#2a2a2a" stroke-width="1"/>
<text transform="translate(426.4,323.1) scale(1.15,1)" font-size="7.3" text-anchor="end" fill="#2a2a2a" stroke="#2a2a2a" stroke-width="0.15">0</text>
<line x1="429.4" y1="297.9" x2="432.4" y2="297.9" stroke="#2a2a2a" stroke-width="1"/>
<text transform="translate(426.4,300.4) scale(1.15,1)" font-size="7.3" text-anchor="end" fill="#2a2a2a" stroke="#2a2a2a" stroke-width="0.15">5</text>
<line x1="429.4" y1="275.2" x2="432.4" y2="275.2" stroke="#2a2a2a" stroke-width="1"/>
<text transform="translate(426.4,277.7) scale(1.15,1)" font-size="7.3" text-anchor="end" fill="#2a2a2a" stroke="#2a2a2a" stroke-width="0.15">10</text>
<line x1="429.4" y1="252.5" x2="432.4" y2="252.5" stroke="#2a2a2a" stroke-width="1"/>
<text transform="translate(426.4,255) scale(1.15,1)" font-size="7.3" text-anchor="end" fill="#2a2a2a" stroke="#2a2a2a" stroke-width="0.15">15</text>
<line x1="429.4" y1="229.8" x2="432.4" y2="229.8" stroke="#2a2a2a" stroke-width="1"/>
<text transform="translate(426.4,232.3) scale(1.15,1)" font-size="7.3" text-anchor="end" fill="#2a2a2a" stroke="#2a2a2a" stroke-width="0.15">20</text>
<line x1="429.4" y1="207.1" x2="432.4" y2="207.1" stroke="#2a2a2a" stroke-width="1"/>
<text transform="translate(426.4,209.6) scale(1.15,1)" font-size="7.3" text-anchor="end" fill="#2a2a2a" stroke="#2a2a2a" stroke-width="0.15">25</text>
<line x1="431.9" y1="320.6" x2="508.9" y2="320.6" stroke="#2a2a2a" stroke-width="1.1"/>
<line x1="454.3" y1="320.6" x2="454.3" y2="323.6" stroke="#2a2a2a" stroke-width="1"/>
<line x1="486.8" y1="320.6" x2="486.8" y2="323.6" stroke="#2a2a2a" stroke-width="1"/>
<text transform="translate(454.3,333.8) scale(1.17,1)" font-size="7.3" text-anchor="middle" fill="#c4304a" stroke="#c4304a" stroke-width="0.2">fl/fl</text>
<text transform="translate(486.8,333.8) scale(1.17,1)" font-size="7.3" text-anchor="middle" fill="#34506e" stroke="#34506e" stroke-width="0.25">KO</text>
<line x1="454.1" y1="211.1" x2="486.9" y2="211.1" stroke="#2a2a2a" stroke-width="1.25"/>
<circle cx="465.6" cy="206.3" r="1.05" fill="#222"/>
<circle cx="468.8" cy="206.3" r="1.05" fill="#222"/>
<circle cx="472" cy="206.3" r="1.05" fill="#222"/>
<circle cx="475.2" cy="206.3" r="1.05" fill="#222"/>
<text x="470.7" y="194.7" font-size="9.8" text-anchor="middle" fill="#2a2a2a" font-weight="normal" stroke="#2a2a2a" stroke-width="0.12">Max ECAR</text>
<text transform="translate(401.9,262.85) rotate(-90) scale(0.7332,1)" font-size="8.8" text-anchor="middle" dy="0.35em" fill="#2a2a2a" font-weight="bold" stroke="#2a2a2a" stroke-width="0.1">ECAR (pmol/min)</text>
<text x="397.15" y="194.2" font-size="11.8" text-anchor="start" fill="#111" font-weight="bold" stroke="#111" stroke-width="0.3">F</text>
<rect x="322.55" y="421.1" width="20.3" height="79.4" fill="#e2897a"/>
<rect x="354.65" y="440.82" width="20.3" height="59.68" fill="#8c98bb"/>
<line x1="332.7" y1="415.8" x2="332.7" y2="424.12" stroke="#a31a33" stroke-width="1"/>
<line x1="327.35" y1="415.8" x2="338.05" y2="415.8" stroke="#a31a33" stroke-width="1"/>
<line x1="327.35" y1="424.12" x2="338.05" y2="424.12" stroke="#a31a33" stroke-width="1"/>
<line x1="364.8" y1="427.88" x2="364.8" y2="451.88" stroke="#2c4a6e" stroke-width="1"/>
<line x1="359.45" y1="427.88" x2="370.15" y2="427.88" stroke="#2c4a6e" stroke-width="1"/>
<line x1="359.45" y1="451.88" x2="370.15" y2="451.88" stroke="#2c4a6e" stroke-width="1"/>
<circle cx="332.5" cy="415.8" r="1.75" fill="#bf0d2d"/>
<circle cx="332.5" cy="420.1" r="1.75" fill="#bf0d2d"/>
<circle cx="332.5" cy="424.1" r="1.75" fill="#bf0d2d"/>
<rect x="363.2" y="425.7" width="3.8" height="3.8" fill="#164a7e"/>
<rect x="363.2" y="439.3" width="3.8" height="3.8" fill="#164a7e"/>
<rect x="363.2" y="449.7" width="3.8" height="3.8" fill="#164a7e"/>
<line x1="310.5" y1="384.4" x2="310.5" y2="501" stroke="#2a2a2a" stroke-width="1.1"/>
<line x1="307.5" y1="500.5" x2="310.5" y2="500.5" stroke="#2a2a2a" stroke-width="1"/>
<text transform="translate(304.5,503) scale(1.15,1)" font-size="7.3" text-anchor="end" fill="#2a2a2a" stroke="#2a2a2a" stroke-width="0.15">0</text>
<line x1="307.5" y1="472" x2="310.5" y2="472" stroke="#2a2a2a" stroke-width="1"/>
<text transform="translate(304.5,474.5) scale(1.15,1)" font-size="7.3" text-anchor="end" fill="#2a2a2a" stroke="#2a2a2a" stroke-width="0.15">50</text>
<line x1="307.5" y1="443.5" x2="310.5" y2="443.5" stroke="#2a2a2a" stroke-width="1"/>
<text transform="translate(304.5,446) scale(1.15,1)" font-size="7.3" text-anchor="end" fill="#2a2a2a" stroke="#2a2a2a" stroke-width="0.15">100</text>
<line x1="307.5" y1="415" x2="310.5" y2="415" stroke="#2a2a2a" stroke-width="1"/>
<text transform="translate(304.5,417.5) scale(1.15,1)" font-size="7.3" text-anchor="end" fill="#2a2a2a" stroke="#2a2a2a" stroke-width="0.15">150</text>
<line x1="307.5" y1="386.5" x2="310.5" y2="386.5" stroke="#2a2a2a" stroke-width="1"/>
<text transform="translate(304.5,389) scale(1.15,1)" font-size="7.3" text-anchor="end" fill="#2a2a2a" stroke="#2a2a2a" stroke-width="0.15">200</text>
<line x1="310" y1="500.5" x2="386.7" y2="500.5" stroke="#2a2a2a" stroke-width="1.1"/>
<line x1="332.7" y1="500.5" x2="332.7" y2="503.5" stroke="#2a2a2a" stroke-width="1"/>
<line x1="364.8" y1="500.5" x2="364.8" y2="503.5" stroke="#2a2a2a" stroke-width="1"/>
<text transform="translate(332.7,513.7) scale(1.17,1)" font-size="7.3" text-anchor="middle" fill="#c4304a" stroke="#c4304a" stroke-width="0.2">fl/fl</text>
<text transform="translate(364.8,513.7) scale(1.17,1)" font-size="7.3" text-anchor="middle" fill="#34506e" stroke="#34506e" stroke-width="0.25">KO</text>
<line x1="331.9" y1="402.5" x2="365.2" y2="402.5" stroke="#2a2a2a" stroke-width="1.25"/>
<text transform="translate(348.8,397) scale(1.15,1)" font-size="7.3" text-anchor="middle" fill="#2a2a2a" stroke="#2a2a2a" stroke-width="0.15">0.0512</text>
<text x="349.15" y="374.2" font-size="9.6" text-anchor="middle" fill="#2a2a2a" font-weight="normal" stroke="#2a2a2a" stroke-width="0.12">Max</text>
<text transform="translate(281,442.8) rotate(-90) scale(0.752,1)" font-size="8.8" text-anchor="middle" dy="0.35em" fill="#2a2a2a" font-weight="bold" stroke="#2a2a2a" stroke-width="0.1">OCR (pmol/min)</text>
<text x="275.7" y="373.6" font-size="11.8" text-anchor="start" fill="#111" font-weight="bold" stroke="#111" stroke-width="0.3">H</text>
<rect x="445.15" y="421.68" width="20.3" height="78.62" fill="#e2897a"/>
<rect x="479.15" y="473.07" width="20.3" height="27.23" fill="#8c98bb"/>
<line x1="455.3" y1="415.53" x2="455.3" y2="425.71" stroke="#a31a33" stroke-width="1"/>
<line x1="450.05" y1="415.53" x2="460.55" y2="415.53" stroke="#a31a33" stroke-width="1"/>
<line x1="450.05" y1="425.71" x2="460.55" y2="425.71" stroke="#a31a33" stroke-width="1"/>
<line x1="489.3" y1="447.49" x2="489.3" y2="497.46" stroke="#2c4a6e" stroke-width="1"/>
<line x1="484.05" y1="447.49" x2="494.55" y2="447.49" stroke="#2c4a6e" stroke-width="1"/>
<line x1="484.05" y1="497.46" x2="494.55" y2="497.46" stroke="#2c4a6e" stroke-width="1"/>
<circle cx="451.7" cy="417.2" r="1.75" fill="#bf0d2d"/>
<circle cx="459.3" cy="417.9" r="1.75" fill="#bf0d2d"/>
<circle cx="455.7" cy="426" r="1.75" fill="#bf0d2d"/>
<rect x="487.45" y="442.75" width="3.9" height="3.9" fill="#164a7e"/>
<rect x="487.45" y="475.65" width="3.9" height="3.9" fill="#164a7e"/>
<rect x="487.45" y="492.75" width="3.9" height="3.9" fill="#164a7e"/>
<line x1="432.4" y1="379.2" x2="432.4" y2="500.8" stroke="#2a2a2a" stroke-width="1.1"/>
<line x1="429.4" y1="500.3" x2="432.4" y2="500.3" stroke="#2a2a2a" stroke-width="1"/>
<text transform="translate(426.4,502.8) scale(1.15,1)" font-size="7.3" text-anchor="end" fill="#2a2a2a" stroke="#2a2a2a" stroke-width="0.15">0</text>
<line x1="429.4" y1="476.62" x2="432.4" y2="476.62" stroke="#2a2a2a" stroke-width="1"/>
<text transform="translate(426.4,479.12) scale(1.15,1)" font-size="7.3" text-anchor="end" fill="#2a2a2a" stroke="#2a2a2a" stroke-width="0.15">10</text>
<line x1="429.4" y1="452.94" x2="432.4" y2="452.94" stroke="#2a2a2a" stroke-width="1"/>
<text transform="translate(426.4,455.44) scale(1.15,1)" font-size="7.3" text-anchor="end" fill="#2a2a2a" stroke="#2a2a2a" stroke-width="0.15">20</text>
<line x1="429.4" y1="429.26" x2="432.4" y2="429.26" stroke="#2a2a2a" stroke-width="1"/>
<text transform="translate(426.4,431.76) scale(1.15,1)" font-size="7.3" text-anchor="end" fill="#2a2a2a" stroke="#2a2a2a" stroke-width="0.15">30</text>
<line x1="429.4" y1="405.58" x2="432.4" y2="405.58" stroke="#2a2a2a" stroke-width="1"/>
<text transform="translate(426.4,408.08) scale(1.15,1)" font-size="7.3" text-anchor="end" fill="#2a2a2a" stroke="#2a2a2a" stroke-width="0.15">40</text>
<line x1="429.4" y1="381.9" x2="432.4" y2="381.9" stroke="#2a2a2a" stroke-width="1"/>
<text transform="translate(426.4,384.4) scale(1.15,1)" font-size="7.3" text-anchor="end" fill="#2a2a2a" stroke="#2a2a2a" stroke-width="0.15">50</text>
<line x1="431.9" y1="500.3" x2="511.5" y2="500.3" stroke="#2a2a2a" stroke-width="1.1"/>
<line x1="455.3" y1="500.3" x2="455.3" y2="503.3" stroke="#2a2a2a" stroke-width="1"/>
<line x1="489.3" y1="500.3" x2="489.3" y2="503.3" stroke="#2a2a2a" stroke-width="1"/>
<text transform="translate(455.3,513.5) scale(1.17,1)" font-size="7.3" text-anchor="middle" fill="#c4304a" stroke="#c4304a" stroke-width="0.2">fl/fl</text>
<text transform="translate(489.3,513.5) scale(1.17,1)" font-size="7.3" text-anchor="middle" fill="#34506e" stroke="#34506e" stroke-width="0.25">KO</text>
<line x1="455.9" y1="401.7" x2="488.5" y2="401.7" stroke="#2a2a2a" stroke-width="1.25"/>
<circle cx="472.3" cy="397.1" r="1.05" fill="#222"/>
<text x="473" y="369.6" font-size="10.3" text-anchor="middle" fill="#2a2a2a" font-weight="normal" stroke="#2a2a2a" stroke-width="0.12">SRC</text>
<text transform="translate(407.6,442.2) rotate(-90) scale(0.7707999999999999,1)" font-size="8.8" text-anchor="middle" dy="0.35em" fill="#2a2a2a" font-weight="bold" stroke="#2a2a2a" stroke-width="0.1">OCR (pmol/min)</text>
<text x="396.95" y="373.7" font-size="11.8" text-anchor="start" fill="#111" font-weight="bold" stroke="#111" stroke-width="0.3">I</text>
<rect x="322.55" y="608.52" width="20.3" height="68.98" fill="#e2897a"/>
<rect x="354.75" y="664.48" width="20.3" height="13.02" fill="#8c98bb"/>
<line x1="332.7" y1="596.42" x2="332.7" y2="618.12" stroke="#a31a33" stroke-width="1"/>
<line x1="327.8" y1="596.42" x2="337.6" y2="596.42" stroke="#a31a33" stroke-width="1"/>
<line x1="327.8" y1="618.12" x2="337.6" y2="618.12" stroke="#a31a33" stroke-width="1"/>
<line x1="364.9" y1="656.26" x2="364.9" y2="672.25" stroke="#2c4a6e" stroke-width="1"/>
<line x1="359.65" y1="656.26" x2="370.15" y2="656.26" stroke="#2c4a6e" stroke-width="1"/>
<line x1="359.65" y1="672.25" x2="370.15" y2="672.25" stroke="#2c4a6e" stroke-width="1"/>
<circle cx="332.5" cy="595.3" r="1.75" fill="#bf0d2d"/>
<circle cx="329.2" cy="613.6" r="1.75" fill="#bf0d2d"/>
<circle cx="335.9" cy="613.6" r="1.75" fill="#bf0d2d"/>
<rect x="359.35" y="656.35" width="3.9" height="3.9" fill="#164a7e"/>
<rect x="366.35" y="658.05" width="3.9" height="3.9" fill="#164a7e"/>
<rect x="363.15" y="670.65" width="3.9" height="3.9" fill="#164a7e"/>
<line x1="310.4" y1="560.8" x2="310.4" y2="678" stroke="#2a2a2a" stroke-width="1.1"/>
<line x1="307.4" y1="677.5" x2="310.4" y2="677.5" stroke="#2a2a2a" stroke-width="1"/>
<text transform="translate(304.4,680) scale(1.15,1)" font-size="7.3" text-anchor="end" fill="#2a2a2a" stroke="#2a2a2a" stroke-width="0.15">0</text>
<line x1="307.4" y1="654.66" x2="310.4" y2="654.66" stroke="#2a2a2a" stroke-width="1"/>
<text transform="translate(304.4,657.16) scale(1.15,1)" font-size="7.3" text-anchor="end" fill="#2a2a2a" stroke="#2a2a2a" stroke-width="0.15">1</text>
<line x1="307.4" y1="631.82" x2="310.4" y2="631.82" stroke="#2a2a2a" stroke-width="1"/>
<text transform="translate(304.4,634.32) scale(1.15,1)" font-size="7.3" text-anchor="end" fill="#2a2a2a" stroke="#2a2a2a" stroke-width="0.15">2</text>
<line x1="307.4" y1="608.98" x2="310.4" y2="608.98" stroke="#2a2a2a" stroke-width="1"/>
<text transform="translate(304.4,611.48) scale(1.15,1)" font-size="7.3" text-anchor="end" fill="#2a2a2a" stroke="#2a2a2a" stroke-width="0.15">3</text>
<line x1="307.4" y1="586.14" x2="310.4" y2="586.14" stroke="#2a2a2a" stroke-width="1"/>
<text transform="translate(304.4,588.64) scale(1.15,1)" font-size="7.3" text-anchor="end" fill="#2a2a2a" stroke="#2a2a2a" stroke-width="0.15">4</text>
<line x1="307.4" y1="563.3" x2="310.4" y2="563.3" stroke="#2a2a2a" stroke-width="1"/>
<text transform="translate(304.4,565.8) scale(1.15,1)" font-size="7.3" text-anchor="end" fill="#2a2a2a" stroke="#2a2a2a" stroke-width="0.15">5</text>
<line x1="309.9" y1="677.5" x2="386.7" y2="677.5" stroke="#2a2a2a" stroke-width="1.1"/>
<line x1="332.7" y1="677.5" x2="332.7" y2="680.5" stroke="#2a2a2a" stroke-width="1"/>
<line x1="364.9" y1="677.5" x2="364.9" y2="680.5" stroke="#2a2a2a" stroke-width="1"/>
<text transform="translate(332.7,690.7) scale(1.17,1)" font-size="7.3" text-anchor="middle" fill="#c4304a" stroke="#c4304a" stroke-width="0.2">fl/fl</text>
<text transform="translate(364.9,690.7) scale(1.17,1)" font-size="7.3" text-anchor="middle" fill="#34506e" stroke="#34506e" stroke-width="0.25">KO</text>
<line x1="333.2" y1="581.7" x2="365.4" y2="581.7" stroke="#2a2a2a" stroke-width="1.25"/>
<circle cx="347.6" cy="576.9" r="1.05" fill="#222"/>
<circle cx="350.8" cy="576.9" r="1.05" fill="#222"/>
<text x="348.95" y="552.3" font-size="10.3" text-anchor="middle" fill="#2a2a2a" font-weight="normal" stroke="#2a2a2a" stroke-width="0.12">w/Oligo</text>
<text transform="translate(290.5,620.3) rotate(-90) scale(0.7707999999999999,1)" font-size="8.8" text-anchor="middle" dy="0.35em" fill="#2a2a2a" font-weight="bold" stroke="#2a2a2a" stroke-width="0.1">ECAR (mpH/min)</text>
<text x="285.4" y="549.85" font-size="11.8" text-anchor="start" fill="#111" font-weight="bold" stroke="#111" stroke-width="0.3">K</text>
<rect x="443.85" y="590.29" width="20.3" height="87.21" fill="#e2897a"/>
<rect x="476.25" y="617.42" width="20.3" height="60.08" fill="#8c98bb"/>
<line x1="454" y1="584.8" x2="454" y2="593.2" stroke="#a31a33" stroke-width="1"/>
<line x1="449" y1="584.8" x2="459" y2="584.8" stroke="#a31a33" stroke-width="1"/>
<line x1="449" y1="593.2" x2="459" y2="593.2" stroke="#a31a33" stroke-width="1"/>
<line x1="486.4" y1="605.79" x2="486.4" y2="626.47" stroke="#2c4a6e" stroke-width="1"/>
<line x1="481.2" y1="605.79" x2="491.6" y2="605.79" stroke="#2c4a6e" stroke-width="1"/>
<line x1="481.2" y1="626.47" x2="491.6" y2="626.47" stroke="#2c4a6e" stroke-width="1"/>
<circle cx="454.2" cy="584.4" r="1.75" fill="#bf0d2d"/>
<circle cx="450.9" cy="592.2" r="1.75" fill="#bf0d2d"/>
<circle cx="457.4" cy="592.2" r="1.75" fill="#bf0d2d"/>
<rect x="484.45" y="603.15" width="3.9" height="3.9" fill="#164a7e"/>
<rect x="484.45" y="616.15" width="3.9" height="3.9" fill="#164a7e"/>
<rect x="484.45" y="623.95" width="3.9" height="3.9" fill="#164a7e"/>
<line x1="432.4" y1="560.5" x2="432.4" y2="678" stroke="#2a2a2a" stroke-width="1.1"/>
<line x1="429.4" y1="677.5" x2="432.4" y2="677.5" stroke="#2a2a2a" stroke-width="1"/>
<text transform="translate(426.4,680) scale(1.15,1)" font-size="7.3" text-anchor="end" fill="#2a2a2a" stroke="#2a2a2a" stroke-width="0.15">0</text>
<line x1="429.4" y1="645.2" x2="432.4" y2="645.2" stroke="#2a2a2a" stroke-width="1"/>
<text transform="translate(426.4,647.7) scale(1.15,1)" font-size="7.3" text-anchor="end" fill="#2a2a2a" stroke="#2a2a2a" stroke-width="0.15">10</text>
<line x1="429.4" y1="612.9" x2="432.4" y2="612.9" stroke="#2a2a2a" stroke-width="1"/>
<text transform="translate(426.4,615.4) scale(1.15,1)" font-size="7.3" text-anchor="end" fill="#2a2a2a" stroke="#2a2a2a" stroke-width="0.15">20</text>
<line x1="429.4" y1="580.6" x2="432.4" y2="580.6" stroke="#2a2a2a" stroke-width="1"/>
<text transform="translate(426.4,583.1) scale(1.15,1)" font-size="7.3" text-anchor="end" fill="#2a2a2a" stroke="#2a2a2a" stroke-width="0.15">30</text>
<line x1="431.9" y1="677.5" x2="508.9" y2="677.5" stroke="#2a2a2a" stroke-width="1.1"/>
<line x1="454" y1="677.5" x2="454" y2="680.5" stroke="#2a2a2a" stroke-width="1"/>
<line x1="486.4" y1="677.5" x2="486.4" y2="680.5" stroke="#2a2a2a" stroke-width="1"/>
<text transform="translate(454,690.7) scale(1.17,1)" font-size="7.3" text-anchor="middle" fill="#c4304a" stroke="#c4304a" stroke-width="0.2">fl/fl</text>
<text transform="translate(486.4,690.7) scale(1.17,1)" font-size="7.3" text-anchor="middle" fill="#34506e" stroke="#34506e" stroke-width="0.25">KO</text>
<line x1="453.9" y1="571.3" x2="486.9" y2="571.3" stroke="#2a2a2a" stroke-width="1.25"/>
<circle cx="470.4" cy="566.5" r="1.05" fill="#222"/>
<text x="470.4" y="551.1" font-size="9.8" text-anchor="middle" fill="#2a2a2a" font-weight="normal" stroke="#2a2a2a" stroke-width="0.12">Max ECAR</text>
<text transform="translate(407.6,620.3) rotate(-90) scale(0.7707999999999999,1)" font-size="8.8" text-anchor="middle" dy="0.35em" fill="#2a2a2a" font-weight="bold" stroke="#2a2a2a" stroke-width="0.1">ECAR (mpH/min)</text>
<text x="401" y="550.05" font-size="11.8" text-anchor="start" fill="#111" font-weight="bold" stroke="#111" stroke-width="0.3">L</text>
<rect x="0.65" y="0.65" width="518.7" height="713.7" fill="none" stroke="#555" stroke-width="1.3"/>
</svg>
</body></html>
